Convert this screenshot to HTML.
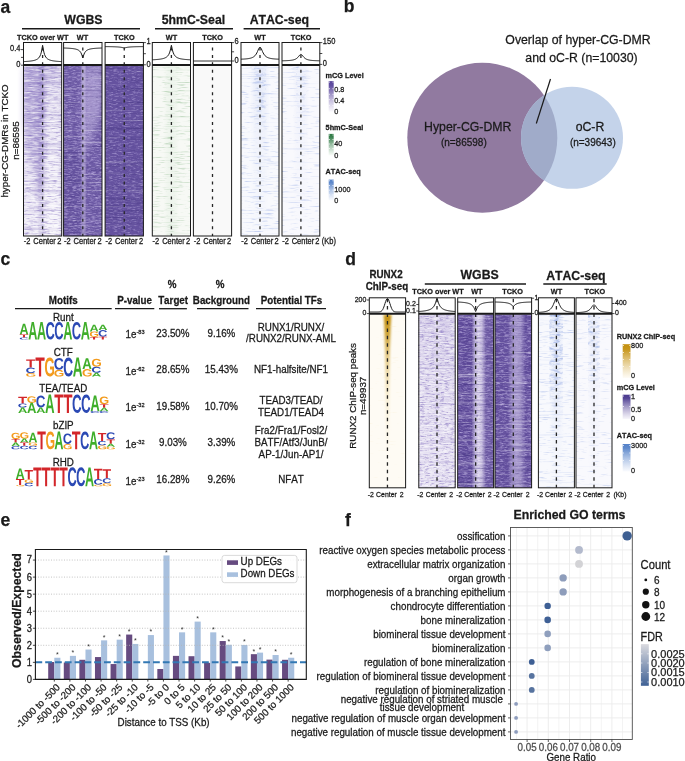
<!DOCTYPE html>
<html><head><meta charset="utf-8"><title>Figure</title>
<style>html,body{margin:0;padding:0;background:#fff;width:685px;height:761px;overflow:hidden}svg{display:block;will-change:transform}text{font-family:"Liberation Sans", sans-serif;font-kerning:none}</style>
</head><body>
<svg width="685" height="761" viewBox="0 0 685 761" font-family='"Liberation Sans", sans-serif'><defs><filter id="blur3" x="-0.5" y="-0.5" width="2" height="2"><feGaussianBlur stdDeviation="3 6"/></filter><linearGradient id="g1" x1="0" y1="0" x2="0" y2="1"><stop offset="0" stop-color="#a190cc" stop-opacity="0.45"/><stop offset="0.4" stop-color="#ad9fd4" stop-opacity="0.18"/><stop offset="0.7" stop-color="#ffffff" stop-opacity="0.1"/><stop offset="1" stop-color="#ffffff" stop-opacity="0.35"/></linearGradient><linearGradient id="g2" x1="0" y1="0" x2="1" y2="0"><stop offset="0.36073298429319367" stop-color="#7a68b6" stop-opacity="0"/><stop offset="0.4157329842931937" stop-color="#7a68b6" stop-opacity="0.44000000000000006"/><stop offset="0.4607329842931937" stop-color="#7a68b6" stop-opacity="0.55"/><stop offset="0.5057329842931937" stop-color="#7a68b6" stop-opacity="0.44000000000000006"/><stop offset="0.5607329842931937" stop-color="#7a68b6" stop-opacity="0"/></linearGradient><linearGradient id="g4" x1="0" y1="0" x2="0" y2="1"><stop offset="0" stop-color="#fff" stop-opacity="1"/><stop offset="0.6" stop-color="#fff" stop-opacity="0.7"/><stop offset="1" stop-color="#fff" stop-opacity="0.4"/></linearGradient><mask id="m3" maskUnits="userSpaceOnUse" x="23.5" y="65.6" width="38.2" height="170.4"><rect x="23.5" y="65.6" width="38.2" height="170.4" fill="url(#g4)"/></mask><filter id="f1" x="0" y="0" width="1" height="1" color-interpolation-filters="sRGB"><feTurbulence type="fractalNoise" baseFrequency="0.1 0.8" numOctaves="3" seed="3"/><feColorMatrix type="matrix" values="0 0 0 0 1.000 0 0 0 0 1.000 0 0 0 0 1.000 1.6 0 0 0 -0.6"/></filter><filter id="f2" x="0" y="0" width="1" height="1" color-interpolation-filters="sRGB"><feTurbulence type="fractalNoise" baseFrequency="0.12 0.9" numOctaves="3" seed="4"/><feColorMatrix type="matrix" values="0 0 0 0 0.478 0 0 0 0 0.400 0 0 0 0 0.722 1.5 0 0 0 -0.72"/></filter><filter id="f3" x="0" y="0" width="1" height="1" color-interpolation-filters="sRGB"><feTurbulence type="fractalNoise" baseFrequency="0.012 0.5" numOctaves="3" seed="5"/><feColorMatrix type="matrix" values="0 0 0 0 0.478 0 0 0 0 0.400 0 0 0 0 0.722 1.2 0 0 0 -0.65"/></filter><linearGradient id="g5" x1="0" y1="0" x2="1" y2="0"><stop offset="0.44083333333333335" stop-color="#dcd5ee" stop-opacity="0"/><stop offset="0.48483333333333334" stop-color="#dcd5ee" stop-opacity="0.52"/><stop offset="0.5208333333333334" stop-color="#dcd5ee" stop-opacity="0.65"/><stop offset="0.5568333333333334" stop-color="#dcd5ee" stop-opacity="0.52"/><stop offset="0.6008333333333333" stop-color="#dcd5ee" stop-opacity="0"/></linearGradient><linearGradient id="g7" x1="0" y1="0" x2="0" y2="1"><stop offset="0" stop-color="#fff" stop-opacity="1"/><stop offset="1" stop-color="#fff" stop-opacity="0.75"/></linearGradient><mask id="m6" maskUnits="userSpaceOnUse" x="63.6" y="65.6" width="38.4" height="170.4"><rect x="63.6" y="65.6" width="38.4" height="170.4" fill="url(#g7)"/></mask><filter id="f4" x="0" y="0" width="1" height="1" color-interpolation-filters="sRGB"><feTurbulence type="fractalNoise" baseFrequency="0.22 0.9" numOctaves="3" seed="11"/><feColorMatrix type="matrix" values="0 0 0 0 0.722 0 0 0 0 0.667 0 0 0 0 0.871 2.0 0 0 0 -0.88"/></filter><filter id="f5" x="0" y="0" width="1" height="1" color-interpolation-filters="sRGB"><feTurbulence type="fractalNoise" baseFrequency="0.012 0.5" numOctaves="3" seed="10"/><feColorMatrix type="matrix" values="0 0 0 0 1.000 0 0 0 0 1.000 0 0 0 0 1.000 1.3 0 0 0 -0.74"/></filter><filter id="f6" x="0" y="0" width="1" height="1" color-interpolation-filters="sRGB"><feTurbulence type="fractalNoise" baseFrequency="0.012 0.5" numOctaves="3" seed="12"/><feColorMatrix type="matrix" values="0 0 0 0 0.227 0 0 0 0 0.165 0 0 0 0 0.471 1.25 0 0 0 -0.68"/></filter><filter id="f7" x="0" y="0" width="1" height="1" color-interpolation-filters="sRGB"><feTurbulence type="fractalNoise" baseFrequency="0.2 0.9" numOctaves="3" seed="13"/><feColorMatrix type="matrix" values="0 0 0 0 0.227 0 0 0 0 0.165 0 0 0 0 0.471 1.1 0 0 0 -0.68"/></filter><filter id="f8" x="0" y="0" width="1" height="1" color-interpolation-filters="sRGB"><feTurbulence type="fractalNoise" baseFrequency="0.22 0.9" numOctaves="3" seed="21"/><feColorMatrix type="matrix" values="0 0 0 0 0.722 0 0 0 0 0.667 0 0 0 0 0.871 1.8 0 0 0 -0.88"/></filter><filter id="f9" x="0" y="0" width="1" height="1" color-interpolation-filters="sRGB"><feTurbulence type="fractalNoise" baseFrequency="0.012 0.5" numOctaves="3" seed="20"/><feColorMatrix type="matrix" values="0 0 0 0 1.000 0 0 0 0 1.000 0 0 0 0 1.000 1.1700000000000002 0 0 0 -0.74"/></filter><filter id="f10" x="0" y="0" width="1" height="1" color-interpolation-filters="sRGB"><feTurbulence type="fractalNoise" baseFrequency="0.012 0.5" numOctaves="3" seed="22"/><feColorMatrix type="matrix" values="0 0 0 0 0.227 0 0 0 0 0.165 0 0 0 0 0.471 1.25 0 0 0 -0.68"/></filter><filter id="f11" x="0" y="0" width="1" height="1" color-interpolation-filters="sRGB"><feTurbulence type="fractalNoise" baseFrequency="0.2 0.9" numOctaves="3" seed="23"/><feColorMatrix type="matrix" values="0 0 0 0 0.227 0 0 0 0 0.165 0 0 0 0 0.471 1.1 0 0 0 -0.68"/></filter><linearGradient id="g8" x1="0" y1="0" x2="1" y2="0"><stop offset="0.3" stop-color="#d9ead9" stop-opacity="0"/><stop offset="0.41" stop-color="#d9ead9" stop-opacity="0.24"/><stop offset="0.5" stop-color="#d9ead9" stop-opacity="0.3"/><stop offset="0.59" stop-color="#d9ead9" stop-opacity="0.24"/><stop offset="0.7" stop-color="#d9ead9" stop-opacity="0"/></linearGradient><filter id="f12" x="0" y="0" width="1" height="1" color-interpolation-filters="sRGB"><feTurbulence type="fractalNoise" baseFrequency="0.08 0.8" numOctaves="3" seed="31"/><feColorMatrix type="matrix" values="0 0 0 0 0.498 0 0 0 0 0.690 0 0 0 0 0.498 1.4 0 0 0 -0.78"/></filter><filter id="f13" x="0" y="0" width="1" height="1" color-interpolation-filters="sRGB"><feTurbulence type="fractalNoise" baseFrequency="0.012 0.5" numOctaves="3" seed="32"/><feColorMatrix type="matrix" values="0 0 0 0 0.612 0 0 0 0 0.769 0 0 0 0 0.612 1.2 0 0 0 -0.72"/></filter><linearGradient id="g9" x1="0" y1="0" x2="1" y2="0"><stop offset="0.25" stop-color="#bccaf0" stop-opacity="0"/><stop offset="0.3875" stop-color="#bccaf0" stop-opacity="0.24"/><stop offset="0.5" stop-color="#bccaf0" stop-opacity="0.3"/><stop offset="0.6125" stop-color="#bccaf0" stop-opacity="0.24"/><stop offset="0.75" stop-color="#bccaf0" stop-opacity="0"/></linearGradient><linearGradient id="g11" x1="0" y1="0" x2="0" y2="1"><stop offset="0" stop-color="#fff" stop-opacity="1"/><stop offset="0.5" stop-color="#fff" stop-opacity="0.4"/><stop offset="1" stop-color="#fff" stop-opacity="0.05"/></linearGradient><mask id="m10" maskUnits="userSpaceOnUse" x="241" y="65.6" width="38" height="170.4"><rect x="241" y="65.6" width="38" height="170.4" fill="url(#g11)"/></mask><linearGradient id="g13" x1="0" y1="0" x2="0" y2="1"><stop offset="0" stop-color="#fff" stop-opacity="1"/><stop offset="0.6" stop-color="#fff" stop-opacity="0.7"/><stop offset="1" stop-color="#fff" stop-opacity="0"/></linearGradient><mask id="m12" maskUnits="userSpaceOnUse" x="254.0" y="65.6" width="12" height="68.16000000000001"><rect x="254.0" y="65.6" width="12" height="68.16000000000001" fill="url(#g13)"/></mask><filter id="f14" x="0" y="0" width="1" height="1" color-interpolation-filters="sRGB"><feTurbulence type="fractalNoise" baseFrequency="0.15 0.35" numOctaves="3" seed="43"/><feColorMatrix type="matrix" values="0 0 0 0 0.541 0 0 0 0 0.620 0 0 0 0 0.878 1.8 0 0 0 -0.95"/></filter><filter id="f15" x="0" y="0" width="1" height="1" color-interpolation-filters="sRGB"><feTurbulence type="fractalNoise" baseFrequency="0.08 0.8" numOctaves="3" seed="41"/><feColorMatrix type="matrix" values="0 0 0 0 0.561 0 0 0 0 0.647 0 0 0 0 0.886 1.5 0 0 0 -0.85"/></filter><filter id="f16" x="0" y="0" width="1" height="1" color-interpolation-filters="sRGB"><feTurbulence type="fractalNoise" baseFrequency="0.012 0.5" numOctaves="3" seed="42"/><feColorMatrix type="matrix" values="0 0 0 0 0.690 0 0 0 0 0.753 0 0 0 0 0.925 1.2 0 0 0 -0.72"/></filter><linearGradient id="g14" x1="0" y1="0" x2="1" y2="0"><stop offset="0.28" stop-color="#c6d1f2" stop-opacity="0"/><stop offset="0.401" stop-color="#c6d1f2" stop-opacity="0.17600000000000002"/><stop offset="0.5" stop-color="#c6d1f2" stop-opacity="0.22"/><stop offset="0.599" stop-color="#c6d1f2" stop-opacity="0.17600000000000002"/><stop offset="0.72" stop-color="#c6d1f2" stop-opacity="0"/></linearGradient><linearGradient id="g16" x1="0" y1="0" x2="0" y2="1"><stop offset="0" stop-color="#fff" stop-opacity="1"/><stop offset="0.5" stop-color="#fff" stop-opacity="0.4"/><stop offset="1" stop-color="#fff" stop-opacity="0.05"/></linearGradient><mask id="m15" maskUnits="userSpaceOnUse" x="282" y="65.6" width="37.80000000000001" height="170.4"><rect x="282" y="65.6" width="37.80000000000001" height="170.4" fill="url(#g16)"/></mask><linearGradient id="g18" x1="0" y1="0" x2="0" y2="1"><stop offset="0" stop-color="#fff" stop-opacity="1"/><stop offset="0.6" stop-color="#fff" stop-opacity="0.7"/><stop offset="1" stop-color="#fff" stop-opacity="0"/></linearGradient><mask id="m17" maskUnits="userSpaceOnUse" x="295.9" y="65.6" width="10" height="51.12"><rect x="295.9" y="65.6" width="10" height="51.12" fill="url(#g18)"/></mask><filter id="f17" x="0" y="0" width="1" height="1" color-interpolation-filters="sRGB"><feTurbulence type="fractalNoise" baseFrequency="0.15 0.35" numOctaves="3" seed="53"/><feColorMatrix type="matrix" values="0 0 0 0 0.596 0 0 0 0 0.667 0 0 0 0 0.894 1.6 0 0 0 -0.92"/></filter><filter id="f18" x="0" y="0" width="1" height="1" color-interpolation-filters="sRGB"><feTurbulence type="fractalNoise" baseFrequency="0.08 0.8" numOctaves="3" seed="51"/><feColorMatrix type="matrix" values="0 0 0 0 0.624 0 0 0 0 0.698 0 0 0 0 0.902 1.5 0 0 0 -0.88"/></filter><filter id="f19" x="0" y="0" width="1" height="1" color-interpolation-filters="sRGB"><feTurbulence type="fractalNoise" baseFrequency="0.012 0.5" numOctaves="3" seed="52"/><feColorMatrix type="matrix" values="0 0 0 0 0.722 0 0 0 0 0.776 0 0 0 0 0.933 1.2 0 0 0 -0.75"/></filter><linearGradient id="g19" x1="0" y1="0" x2="0" y2="1"><stop offset="0" stop-color="#5a469c" stop-opacity="1"/><stop offset="0.15" stop-color="#5a469c" stop-opacity="0.95"/><stop offset="1" stop-color="#f7f5fc" stop-opacity="0.6"/></linearGradient><linearGradient id="g20" x1="0" y1="0" x2="0" y2="1"><stop offset="0" stop-color="#2f7a45" stop-opacity="1"/><stop offset="0.15" stop-color="#2f7a45" stop-opacity="0.95"/><stop offset="1" stop-color="#f4faf4" stop-opacity="0.6"/></linearGradient><linearGradient id="g21" x1="0" y1="0" x2="0" y2="1"><stop offset="0" stop-color="#5683c9" stop-opacity="1"/><stop offset="0.15" stop-color="#5683c9" stop-opacity="0.95"/><stop offset="1" stop-color="#f5f7fd" stop-opacity="0.6"/></linearGradient><clipPath id="cpbig"><circle cx="482.3" cy="137.8" r="75"/></clipPath><path id="glA" d="M1133 0 1008 360H471L346 0H51L565 1409H913L1425 0ZM739 1192 733 1170Q723 1134 709.0 1088.0Q695 1042 537 582H942L803 987L760 1123Z"/><path id="glC" d="M795 212Q1062 212 1166 480L1423 383Q1340 179 1179.5 79.5Q1019 -20 795 -20Q455 -20 269.5 172.5Q84 365 84 711Q84 1058 263.0 1244.0Q442 1430 782 1430Q1030 1430 1186.0 1330.5Q1342 1231 1405 1038L1145 967Q1112 1073 1015.5 1135.5Q919 1198 788 1198Q588 1198 484.5 1074.0Q381 950 381 711Q381 468 487.5 340.0Q594 212 795 212Z"/><path id="glG" d="M806 211Q921 211 1029.0 244.5Q1137 278 1196 330V525H852V743H1466V225Q1354 110 1174.5 45.0Q995 -20 798 -20Q454 -20 269.0 170.5Q84 361 84 711Q84 1059 270.0 1244.5Q456 1430 805 1430Q1301 1430 1436 1063L1164 981Q1120 1088 1026.0 1143.0Q932 1198 805 1198Q597 1198 489.0 1072.0Q381 946 381 711Q381 472 492.5 341.5Q604 211 806 211Z"/><path id="glT" d="M773 1181V0H478V1181H23V1409H1229V1181Z"/><filter id="blurG" x="-1" y="-0.2" width="3" height="1.4"><feGaussianBlur stdDeviation="0.9 1.5"/></filter><linearGradient id="g22" x1="0" y1="0" x2="0" y2="1"><stop offset="0" stop-color="#c4900e" stop-opacity="1"/><stop offset="0.12" stop-color="#c99a22" stop-opacity="0.92"/><stop offset="0.3" stop-color="#dcb657" stop-opacity="0.62"/><stop offset="0.55" stop-color="#efd99a" stop-opacity="0.35"/><stop offset="1" stop-color="#f6e8c4" stop-opacity="0"/></linearGradient><filter id="f20" x="0" y="0" width="1" height="1" color-interpolation-filters="sRGB"><feTurbulence type="fractalNoise" baseFrequency="0.08 0.8" numOctaves="3" seed="21"/><feColorMatrix type="matrix" values="0 0 0 0 0.953 0 0 0 0 0.886 0 0 0 0 0.706 1.2 0 0 0 -0.82"/></filter><linearGradient id="g23" x1="0" y1="0" x2="0" y2="1"><stop offset="0" stop-color="#b9acd9" stop-opacity="0.3"/><stop offset="1" stop-color="#ffffff" stop-opacity="0.1"/></linearGradient><filter id="f21" x="0" y="0" width="1" height="1" color-interpolation-filters="sRGB"><feTurbulence type="fractalNoise" baseFrequency="0.12 0.9" numOctaves="3" seed="61"/><feColorMatrix type="matrix" values="0 0 0 0 1.000 0 0 0 0 1.000 0 0 0 0 1.000 1.6 0 0 0 -0.6"/></filter><filter id="f22" x="0" y="0" width="1" height="1" color-interpolation-filters="sRGB"><feTurbulence type="fractalNoise" baseFrequency="0.2 0.9" numOctaves="3" seed="62"/><feColorMatrix type="matrix" values="0 0 0 0 0.478 0 0 0 0 0.400 0 0 0 0 0.722 1.7 0 0 0 -0.85"/></filter><filter id="f23" x="0" y="0" width="1" height="1" color-interpolation-filters="sRGB"><feTurbulence type="fractalNoise" baseFrequency="0.012 0.5" numOctaves="3" seed="63"/><feColorMatrix type="matrix" values="0 0 0 0 0.478 0 0 0 0 0.400 0 0 0 0 0.722 1.2 0 0 0 -0.68"/></filter><linearGradient id="g24" x1="0" y1="0" x2="1" y2="0"><stop offset="0" stop-color="#c9bfe3" stop-opacity="0"/><stop offset="0.55" stop-color="#c9bfe3" stop-opacity="0.0"/><stop offset="0.75" stop-color="#c9bfe3" stop-opacity="0.15"/><stop offset="1" stop-color="#c9bfe3" stop-opacity="0.1"/></linearGradient><linearGradient id="g25" x1="0" y1="0" x2="1" y2="0"><stop offset="0.3835654596100278" stop-color="#e8e2f4" stop-opacity="0"/><stop offset="0.4935654596100278" stop-color="#e8e2f4" stop-opacity="0.76"/><stop offset="0.5835654596100278" stop-color="#e8e2f4" stop-opacity="0.95"/><stop offset="0.6735654596100278" stop-color="#e8e2f4" stop-opacity="0.76"/><stop offset="0.7835654596100279" stop-color="#e8e2f4" stop-opacity="0"/></linearGradient><filter id="f24" x="0" y="0" width="1" height="1" color-interpolation-filters="sRGB"><feTurbulence type="fractalNoise" baseFrequency="0.22 0.9" numOctaves="3" seed="71"/><feColorMatrix type="matrix" values="0 0 0 0 0.722 0 0 0 0 0.667 0 0 0 0 0.871 2.0 0 0 0 -0.88"/></filter><filter id="f25" x="0" y="0" width="1" height="1" color-interpolation-filters="sRGB"><feTurbulence type="fractalNoise" baseFrequency="0.012 0.5" numOctaves="3" seed="70"/><feColorMatrix type="matrix" values="0 0 0 0 1.000 0 0 0 0 1.000 0 0 0 0 1.000 1.3 0 0 0 -0.74"/></filter><filter id="f26" x="0" y="0" width="1" height="1" color-interpolation-filters="sRGB"><feTurbulence type="fractalNoise" baseFrequency="0.012 0.5" numOctaves="3" seed="72"/><feColorMatrix type="matrix" values="0 0 0 0 0.227 0 0 0 0 0.165 0 0 0 0 0.471 1.25 0 0 0 -0.68"/></filter><filter id="f27" x="0" y="0" width="1" height="1" color-interpolation-filters="sRGB"><feTurbulence type="fractalNoise" baseFrequency="0.2 0.9" numOctaves="3" seed="73"/><feColorMatrix type="matrix" values="0 0 0 0 0.227 0 0 0 0 0.165 0 0 0 0 0.471 1.1 0 0 0 -0.68"/></filter><linearGradient id="g26" x1="0" y1="0" x2="1" y2="0"><stop offset="0.35562841530054645" stop-color="#cdc3e6" stop-opacity="0"/><stop offset="0.48762841530054646" stop-color="#cdc3e6" stop-opacity="0.52"/><stop offset="0.5956284153005464" stop-color="#cdc3e6" stop-opacity="0.65"/><stop offset="0.7036284153005464" stop-color="#cdc3e6" stop-opacity="0.52"/><stop offset="0.8356284153005464" stop-color="#cdc3e6" stop-opacity="0"/></linearGradient><filter id="f28" x="0" y="0" width="1" height="1" color-interpolation-filters="sRGB"><feTurbulence type="fractalNoise" baseFrequency="0.22 0.9" numOctaves="3" seed="81"/><feColorMatrix type="matrix" values="0 0 0 0 0.722 0 0 0 0 0.667 0 0 0 0 0.871 2.0 0 0 0 -0.88"/></filter><filter id="f29" x="0" y="0" width="1" height="1" color-interpolation-filters="sRGB"><feTurbulence type="fractalNoise" baseFrequency="0.012 0.5" numOctaves="3" seed="80"/><feColorMatrix type="matrix" values="0 0 0 0 1.000 0 0 0 0 1.000 0 0 0 0 1.000 1.3 0 0 0 -0.74"/></filter><filter id="f30" x="0" y="0" width="1" height="1" color-interpolation-filters="sRGB"><feTurbulence type="fractalNoise" baseFrequency="0.012 0.5" numOctaves="3" seed="82"/><feColorMatrix type="matrix" values="0 0 0 0 0.227 0 0 0 0 0.165 0 0 0 0 0.471 1.25 0 0 0 -0.68"/></filter><filter id="f31" x="0" y="0" width="1" height="1" color-interpolation-filters="sRGB"><feTurbulence type="fractalNoise" baseFrequency="0.2 0.9" numOctaves="3" seed="83"/><feColorMatrix type="matrix" values="0 0 0 0 0.227 0 0 0 0 0.165 0 0 0 0 0.471 1.1 0 0 0 -0.68"/></filter><linearGradient id="g27" x1="0" y1="0" x2="1" y2="0"><stop offset="0.3" stop-color="#bccbf0" stop-opacity="0"/><stop offset="0.41" stop-color="#bccbf0" stop-opacity="0.27999999999999997"/><stop offset="0.5" stop-color="#bccbf0" stop-opacity="0.35"/><stop offset="0.59" stop-color="#bccbf0" stop-opacity="0.27999999999999997"/><stop offset="0.7" stop-color="#bccbf0" stop-opacity="0"/></linearGradient><linearGradient id="g29" x1="0" y1="0" x2="0" y2="1"><stop offset="0" stop-color="#fff" stop-opacity="1"/><stop offset="0.45" stop-color="#fff" stop-opacity="0.5"/><stop offset="1" stop-color="#fff" stop-opacity="0.05"/></linearGradient><mask id="m28" maskUnits="userSpaceOnUse" x="538.4" y="314.5" width="36.0" height="173.3"><rect x="538.4" y="314.5" width="36.0" height="173.3" fill="url(#g29)"/></mask><linearGradient id="g31" x1="0" y1="0" x2="0" y2="1"><stop offset="0" stop-color="#fff" stop-opacity="1"/><stop offset="0.6" stop-color="#fff" stop-opacity="0.7"/><stop offset="1" stop-color="#fff" stop-opacity="0"/></linearGradient><mask id="m30" maskUnits="userSpaceOnUse" x="549.4" y="314.5" width="14" height="103.98"><rect x="549.4" y="314.5" width="14" height="103.98" fill="url(#g31)"/></mask><filter id="f32" x="0" y="0" width="1" height="1" color-interpolation-filters="sRGB"><feTurbulence type="fractalNoise" baseFrequency="0.15 0.35" numOctaves="3" seed="93"/><feColorMatrix type="matrix" values="0 0 0 0 0.533 0 0 0 0 0.627 0 0 0 0 0.878 2.2 0 0 0 -1.0"/></filter><filter id="f33" x="0" y="0" width="1" height="1" color-interpolation-filters="sRGB"><feTurbulence type="fractalNoise" baseFrequency="0.08 0.8" numOctaves="3" seed="91"/><feColorMatrix type="matrix" values="0 0 0 0 0.561 0 0 0 0 0.647 0 0 0 0 0.886 1.5 0 0 0 -0.87"/></filter><filter id="f34" x="0" y="0" width="1" height="1" color-interpolation-filters="sRGB"><feTurbulence type="fractalNoise" baseFrequency="0.012 0.5" numOctaves="3" seed="92"/><feColorMatrix type="matrix" values="0 0 0 0 0.690 0 0 0 0 0.753 0 0 0 0 0.925 1.2 0 0 0 -0.74"/></filter><linearGradient id="g32" x1="0" y1="0" x2="1" y2="0"><stop offset="0.32" stop-color="#c8d3f2" stop-opacity="0"/><stop offset="0.419" stop-color="#c8d3f2" stop-opacity="0.24"/><stop offset="0.5" stop-color="#c8d3f2" stop-opacity="0.3"/><stop offset="0.581" stop-color="#c8d3f2" stop-opacity="0.24"/><stop offset="0.6799999999999999" stop-color="#c8d3f2" stop-opacity="0"/></linearGradient><linearGradient id="g34" x1="0" y1="0" x2="0" y2="1"><stop offset="0" stop-color="#fff" stop-opacity="1"/><stop offset="0.5" stop-color="#fff" stop-opacity="0.4"/><stop offset="1" stop-color="#fff" stop-opacity="0.05"/></linearGradient><mask id="m33" maskUnits="userSpaceOnUse" x="576" y="314.5" width="36" height="173.3"><rect x="576" y="314.5" width="36" height="173.3" fill="url(#g34)"/></mask><linearGradient id="g36" x1="0" y1="0" x2="0" y2="1"><stop offset="0" stop-color="#fff" stop-opacity="1"/><stop offset="0.6" stop-color="#fff" stop-opacity="0.7"/><stop offset="1" stop-color="#fff" stop-opacity="0"/></linearGradient><mask id="m35" maskUnits="userSpaceOnUse" x="588.0" y="314.5" width="12" height="86.65"><rect x="588.0" y="314.5" width="12" height="86.65" fill="url(#g36)"/></mask><filter id="f35" x="0" y="0" width="1" height="1" color-interpolation-filters="sRGB"><feTurbulence type="fractalNoise" baseFrequency="0.15 0.35" numOctaves="3" seed="97"/><feColorMatrix type="matrix" values="0 0 0 0 0.596 0 0 0 0 0.682 0 0 0 0 0.894 2.0 0 0 0 -1.0"/></filter><filter id="f36" x="0" y="0" width="1" height="1" color-interpolation-filters="sRGB"><feTurbulence type="fractalNoise" baseFrequency="0.08 0.8" numOctaves="3" seed="95"/><feColorMatrix type="matrix" values="0 0 0 0 0.624 0 0 0 0 0.698 0 0 0 0 0.902 1.5 0 0 0 -0.9"/></filter><filter id="f37" x="0" y="0" width="1" height="1" color-interpolation-filters="sRGB"><feTurbulence type="fractalNoise" baseFrequency="0.012 0.5" numOctaves="3" seed="96"/><feColorMatrix type="matrix" values="0 0 0 0 0.722 0 0 0 0 0.776 0 0 0 0 0.933 1.2 0 0 0 -0.77"/></filter><linearGradient id="g37" x1="0" y1="0" x2="0" y2="1"><stop offset="0" stop-color="#c4900e" stop-opacity="1"/><stop offset="0.15" stop-color="#c4900e" stop-opacity="0.95"/><stop offset="1" stop-color="#fdf8ec" stop-opacity="0.6"/></linearGradient><linearGradient id="g38" x1="0" y1="0" x2="0" y2="1"><stop offset="0" stop-color="#4b3a90" stop-opacity="1"/><stop offset="0.15" stop-color="#4b3a90" stop-opacity="0.95"/><stop offset="1" stop-color="#f0edf8" stop-opacity="0.6"/></linearGradient><linearGradient id="g39" x1="0" y1="0" x2="0" y2="1"><stop offset="0" stop-color="#5683c9" stop-opacity="1"/><stop offset="0.15" stop-color="#5683c9" stop-opacity="0.95"/><stop offset="1" stop-color="#f5f7fd" stop-opacity="0.6"/></linearGradient><linearGradient id="g40" x1="0" y1="0" x2="0" y2="1"><stop offset="0" stop-color="#dadadf" stop-opacity="1"/><stop offset="1" stop-color="#3f6195" stop-opacity="1"/></linearGradient></defs><rect width="685" height="761" fill="#fff"/><text x="0.60" y="12.50" font-size="17.5" font-weight="bold" text-anchor="start" fill="#1a1a1a" stroke="#1a1a1a" stroke-width="0.25" >a</text>
<text transform="translate(83.40,23.60) scale(1,1.1)" font-size="12.3" font-weight="bold" text-anchor="middle" fill="#1a1a1a" stroke="#1a1a1a" stroke-width="0.25" >WGBS</text>
<text transform="translate(193.40,23.60) scale(1,1.1)" font-size="12.3" font-weight="bold" text-anchor="middle" fill="#1a1a1a" stroke="#1a1a1a" stroke-width="0.25" >5hmC-Seal</text>
<text transform="translate(279.30,23.60) scale(1,1.1)" font-size="12.3" font-weight="bold" text-anchor="middle" fill="#1a1a1a" stroke="#1a1a1a" stroke-width="0.25" >ATAC-seq</text>
<line x1="22.00" y1="28.80" x2="140.00" y2="28.80" stroke="#1a1a1a" stroke-width="1.4" />
<line x1="155.00" y1="28.80" x2="233.00" y2="28.80" stroke="#1a1a1a" stroke-width="1.4" />
<line x1="243.60" y1="28.80" x2="320.00" y2="28.80" stroke="#1a1a1a" stroke-width="1.4" />
<text transform="translate(42.70,40.20) scale(1,1.1)" font-size="7.3" font-weight="bold" text-anchor="middle" fill="#1a1a1a" stroke="#1a1a1a" stroke-width="0.25" >TCKO over WT</text>
<text transform="translate(82.50,40.20) scale(1,1.1)" font-size="7.3" font-weight="bold" text-anchor="middle" fill="#1a1a1a" stroke="#1a1a1a" stroke-width="0.25" >WT</text>
<text transform="translate(124.30,40.20) scale(1,1.1)" font-size="7.3" font-weight="bold" text-anchor="middle" fill="#1a1a1a" stroke="#1a1a1a" stroke-width="0.25" >TCKO</text>
<text transform="translate(171.50,40.20) scale(1,1.1)" font-size="7.3" font-weight="bold" text-anchor="middle" fill="#1a1a1a" stroke="#1a1a1a" stroke-width="0.25" >WT</text>
<text transform="translate(212.50,40.20) scale(1,1.1)" font-size="7.3" font-weight="bold" text-anchor="middle" fill="#1a1a1a" stroke="#1a1a1a" stroke-width="0.25" >TCKO</text>
<text transform="translate(260.00,40.20) scale(1,1.1)" font-size="7.3" font-weight="bold" text-anchor="middle" fill="#1a1a1a" stroke="#1a1a1a" stroke-width="0.25" >WT</text>
<text transform="translate(301.00,40.20) scale(1,1.1)" font-size="7.3" font-weight="bold" text-anchor="middle" fill="#1a1a1a" stroke="#1a1a1a" stroke-width="0.25" >TCKO</text>
<rect x="23.50" y="65.60" width="38.20" height="170.40" fill="#e6e1f2" />
<rect x="23.50" y="65.60" width="38.20" height="170.40" fill="url(#g1)" />
<rect x="23.50" y="65.60" width="38.20" height="170.40" fill="url(#g2)" mask="url(#m3)"/>
<polygon points="23.5,65.6 45.6,65.6 43.6,142.28 41.6,193.4 38.6,193.4 23.5,125.24" fill="#9584c6" opacity="0.5" filter="url(#blur3)"/>
<polygon points="37.6,82.64 43.6,82.64 43.1,201.92000000000002 40.1,201.92000000000002" fill="#8a78c0" opacity="0.45" filter="url(#blur3)"/>
<polygon points="46.6,82.64 61.7,69.008 61.7,236 44.6,236" fill="#ffffff" opacity="0.45" filter="url(#blur3)"/>
<rect x="23.50" y="65.60" width="38.20" height="170.40" fill="#000" filter="url(#f1)"/>
<rect x="23.50" y="65.60" width="38.20" height="170.40" fill="#000" filter="url(#f2)"/>
<rect x="23.50" y="65.60" width="38.20" height="170.40" fill="#000" filter="url(#f3)"/>
<rect x="63.60" y="65.60" width="38.40" height="170.40" fill="#6e5ba6" />
<rect x="63.60" y="65.60" width="38.40" height="170.40" fill="url(#g5)" mask="url(#m6)"/>
<polygon points="83.8,65.6 102,65.6 102,108.19999999999999 87.8,150.8 83.8,150.8" fill="#c4b8e2" opacity="0.6" filter="url(#blur3)"/>
<polygon points="63.6,150.8 80.8,150.8 80.8,236 63.6,236" fill="#4a3889" opacity="0.25" filter="url(#blur3)"/>
<rect x="63.60" y="65.60" width="38.40" height="170.40" fill="#000" filter="url(#f4)"/>
<rect x="63.60" y="65.60" width="38.40" height="170.40" fill="#000" filter="url(#f5)"/>
<rect x="63.60" y="65.60" width="38.40" height="170.40" fill="#000" filter="url(#f6)"/>
<rect x="63.60" y="65.60" width="38.40" height="170.40" fill="#000" filter="url(#f7)"/>
<rect x="105.10" y="65.60" width="38.30" height="170.40" fill="#65529f" />
<rect x="105.10" y="65.60" width="38.30" height="170.40" fill="#000" filter="url(#f8)"/>
<rect x="105.10" y="65.60" width="38.30" height="170.40" fill="#000" filter="url(#f9)"/>
<rect x="105.10" y="65.60" width="38.30" height="170.40" fill="#000" filter="url(#f10)"/>
<rect x="105.10" y="65.60" width="38.30" height="170.40" fill="#000" filter="url(#f11)"/>
<rect x="152.30" y="65.60" width="38.20" height="170.40" fill="#f7f9f5" />
<rect x="152.30" y="65.60" width="38.20" height="170.40" fill="url(#g8)" />
<rect x="152.30" y="65.60" width="38.20" height="170.40" fill="#000" filter="url(#f12)"/>
<rect x="152.30" y="65.60" width="38.20" height="170.40" fill="#000" filter="url(#f13)"/>
<rect x="193.40" y="65.60" width="38.20" height="170.40" fill="#f9f9f9" />
<rect x="241.00" y="65.60" width="38.00" height="170.40" fill="#f8f9fd" />
<rect x="241.00" y="65.60" width="38.00" height="170.40" fill="url(#g9)" mask="url(#m10)"/>
<g mask="url(#m12)"><rect x="254.00" y="65.60" width="12.00" height="68.16" fill="#000" filter="url(#f14)"/></g>
<rect x="241.00" y="65.60" width="38.00" height="170.40" fill="#000" filter="url(#f15)"/>
<rect x="241.00" y="65.60" width="38.00" height="170.40" fill="#000" filter="url(#f16)"/>
<rect x="282.00" y="65.60" width="37.80" height="170.40" fill="#f9f9fd" />
<rect x="282.00" y="65.60" width="37.80" height="170.40" fill="url(#g14)" mask="url(#m15)"/>
<g mask="url(#m17)"><rect x="295.90" y="65.60" width="10.00" height="51.12" fill="#000" filter="url(#f17)"/></g>
<rect x="282.00" y="65.60" width="37.80" height="170.40" fill="#000" filter="url(#f18)"/>
<rect x="282.00" y="65.60" width="37.80" height="170.40" fill="#000" filter="url(#f19)"/>
<rect x="23.50" y="42.50" width="38.20" height="22.10" fill="#fff" />
<rect x="63.60" y="42.50" width="38.40" height="22.10" fill="#fff" />
<rect x="105.10" y="42.50" width="38.30" height="22.10" fill="#fff" />
<rect x="152.30" y="42.50" width="38.20" height="22.10" fill="#fff" />
<rect x="193.40" y="42.50" width="38.20" height="22.10" fill="#fff" />
<rect x="241.00" y="42.50" width="38.00" height="22.10" fill="#fff" />
<rect x="282.00" y="42.50" width="37.80" height="22.10" fill="#fff" />
<line x1="42.60" y1="42.50" x2="42.60" y2="236.00" stroke="#262626" stroke-width="1.3" stroke-dasharray="3,4.45" stroke-dashoffset="2.5"/>
<path d="M23.50,61.60 L24.14,61.57 L24.77,61.54 L25.41,61.50 L26.05,61.46 L26.68,61.42 L27.32,61.37 L27.96,61.32 L28.59,61.27 L29.23,61.21 L29.87,61.14 L30.50,61.06 L31.14,60.98 L31.78,60.89 L32.41,60.78 L33.05,60.66 L33.69,60.52 L34.32,60.36 L34.96,60.17 L35.60,59.95 L36.23,59.69 L36.87,59.37 L37.51,58.98 L38.14,58.49 L38.78,57.86 L39.42,57.04 L40.05,55.93 L40.69,54.39 L41.33,52.17 L41.96,48.97 L42.60,45.30 L43.24,48.97 L43.87,52.17 L44.51,54.39 L45.15,55.93 L45.78,57.04 L46.42,57.86 L47.06,58.49 L47.69,58.98 L48.33,59.37 L48.97,59.69 L49.60,59.95 L50.24,60.17 L50.88,60.36 L51.51,60.52 L52.15,60.66 L52.79,60.78 L53.42,60.89 L54.06,60.98 L54.70,61.06 L55.33,61.14 L55.97,61.21 L56.61,61.27 L57.24,61.32 L57.88,61.37 L58.52,61.42 L59.15,61.46 L59.79,61.50 L60.43,61.54 L61.06,61.57 L61.70,61.60" stroke="#1a1a1a" stroke-width="1" fill="none" />
<line x1="82.80" y1="42.50" x2="82.80" y2="236.00" stroke="#262626" stroke-width="1.3" stroke-dasharray="3,4.45" stroke-dashoffset="2.5"/>
<path d="M63.60,48.00 L64.24,48.02 L64.88,48.04 L65.52,48.07 L66.16,48.10 L66.80,48.12 L67.44,48.16 L68.08,48.19 L68.72,48.23 L69.36,48.27 L70.00,48.32 L70.64,48.37 L71.28,48.43 L71.92,48.49 L72.56,48.56 L73.20,48.65 L73.84,48.74 L74.48,48.85 L75.12,48.98 L75.76,49.12 L76.40,49.30 L77.04,49.51 L77.68,49.77 L78.32,50.10 L78.96,50.51 L79.60,51.04 L80.24,51.74 L80.88,52.70 L81.52,54.04 L82.16,55.89 L82.80,57.90 L83.44,55.89 L84.08,54.04 L84.72,52.70 L85.36,51.74 L86.00,51.04 L86.64,50.51 L87.28,50.10 L87.92,49.77 L88.56,49.51 L89.20,49.30 L89.84,49.12 L90.48,48.98 L91.12,48.85 L91.76,48.74 L92.40,48.65 L93.04,48.56 L93.68,48.49 L94.32,48.43 L94.96,48.37 L95.60,48.32 L96.24,48.27 L96.88,48.23 L97.52,48.19 L98.16,48.16 L98.80,48.12 L99.44,48.10 L100.08,48.07 L100.72,48.04 L101.36,48.02 L102.00,48.00" stroke="#1a1a1a" stroke-width="1" fill="none" />
<line x1="124.25" y1="42.50" x2="124.25" y2="236.00" stroke="#262626" stroke-width="1.3" stroke-dasharray="3,4.45" stroke-dashoffset="2.5"/>
<path d="M105.10,46.60 L105.74,46.61 L106.38,46.61 L107.02,46.62 L107.65,46.63 L108.29,46.64 L108.93,46.65 L109.57,46.66 L110.21,46.67 L110.84,46.69 L111.48,46.70 L112.12,46.71 L112.76,46.73 L113.40,46.75 L114.04,46.77 L114.67,46.79 L115.31,46.82 L115.95,46.85 L116.59,46.88 L117.23,46.92 L117.87,46.96 L118.50,47.01 L119.14,47.07 L119.78,47.14 L120.42,47.21 L121.06,47.31 L121.70,47.42 L122.34,47.55 L122.97,47.70 L123.61,47.86 L124.25,48.00 L124.89,47.86 L125.53,47.70 L126.17,47.55 L126.80,47.42 L127.44,47.31 L128.08,47.21 L128.72,47.14 L129.36,47.07 L130.00,47.01 L130.63,46.96 L131.27,46.92 L131.91,46.88 L132.55,46.85 L133.19,46.82 L133.82,46.79 L134.46,46.77 L135.10,46.75 L135.74,46.73 L136.38,46.71 L137.02,46.70 L137.66,46.69 L138.29,46.67 L138.93,46.66 L139.57,46.65 L140.21,46.64 L140.85,46.63 L141.49,46.62 L142.12,46.61 L142.76,46.61 L143.40,46.60" stroke="#1a1a1a" stroke-width="1" fill="none" />
<line x1="171.40" y1="42.50" x2="171.40" y2="236.00" stroke="#262626" stroke-width="1.3" stroke-dasharray="3,4.45" stroke-dashoffset="2.5"/>
<path d="M152.30,59.80 L152.94,59.77 L153.57,59.74 L154.21,59.70 L154.85,59.66 L155.48,59.62 L156.12,59.57 L156.76,59.52 L157.39,59.46 L158.03,59.40 L158.67,59.34 L159.30,59.26 L159.94,59.18 L160.58,59.08 L161.21,58.97 L161.85,58.85 L162.49,58.72 L163.12,58.56 L163.76,58.37 L164.40,58.15 L165.03,57.89 L165.67,57.58 L166.31,57.20 L166.94,56.73 L167.58,56.13 L168.22,55.35 L168.85,54.32 L169.49,52.91 L170.13,50.95 L170.76,48.24 L171.40,45.30 L172.04,48.24 L172.67,50.95 L173.31,52.91 L173.95,54.32 L174.58,55.35 L175.22,56.13 L175.86,56.73 L176.49,57.20 L177.13,57.58 L177.77,57.89 L178.40,58.15 L179.04,58.37 L179.68,58.56 L180.31,58.72 L180.95,58.85 L181.59,58.97 L182.22,59.08 L182.86,59.18 L183.50,59.26 L184.13,59.34 L184.77,59.40 L185.41,59.46 L186.04,59.52 L186.68,59.57 L187.32,59.62 L187.95,59.66 L188.59,59.70 L189.23,59.74 L189.86,59.77 L190.50,59.80" stroke="#1a1a1a" stroke-width="1" fill="none" />
<line x1="212.50" y1="42.50" x2="212.50" y2="236.00" stroke="#262626" stroke-width="1.3" stroke-dasharray="3,4.45" stroke-dashoffset="2.5"/>
<path d="M193.40,61.00 L194.04,61.00 L194.67,61.00 L195.31,61.00 L195.95,61.00 L196.58,61.00 L197.22,61.00 L197.86,61.00 L198.49,61.00 L199.13,61.00 L199.77,61.00 L200.40,61.00 L201.04,61.00 L201.68,61.00 L202.31,61.00 L202.95,61.00 L203.59,61.00 L204.22,61.00 L204.86,61.00 L205.50,61.00 L206.13,61.00 L206.77,61.00 L207.41,61.00 L208.04,61.00 L208.68,61.00 L209.32,61.00 L209.95,61.00 L210.59,61.00 L211.23,61.00 L211.86,61.00 L212.50,61.00 L213.14,61.00 L213.77,61.00 L214.41,61.00 L215.05,61.00 L215.68,61.00 L216.32,61.00 L216.96,61.00 L217.59,61.00 L218.23,61.00 L218.87,61.00 L219.50,61.00 L220.14,61.00 L220.78,61.00 L221.41,61.00 L222.05,61.00 L222.69,61.00 L223.32,61.00 L223.96,61.00 L224.60,61.00 L225.23,61.00 L225.87,61.00 L226.51,61.00 L227.14,61.00 L227.78,61.00 L228.42,61.00 L229.05,61.00 L229.69,61.00 L230.33,61.00 L230.96,61.00 L231.60,61.00" stroke="#1a1a1a" stroke-width="1" fill="none" />
<line x1="260.00" y1="42.50" x2="260.00" y2="236.00" stroke="#262626" stroke-width="1.3" stroke-dasharray="3,4.45" stroke-dashoffset="2.5"/>
<path d="M241.00,59.20 L241.63,59.17 L242.27,59.14 L242.90,59.11 L243.53,59.08 L244.17,59.04 L244.80,58.99 L245.43,58.94 L246.07,58.88 L246.70,58.82 L247.33,58.75 L247.97,58.66 L248.60,58.57 L249.23,58.45 L249.87,58.32 L250.50,58.17 L251.13,57.98 L251.77,57.77 L252.40,57.50 L253.03,57.18 L253.67,56.79 L254.30,56.31 L254.93,55.71 L255.57,54.97 L256.20,54.04 L256.83,52.92 L257.47,51.59 L258.10,50.12 L258.73,48.69 L259.37,47.61 L260.00,47.20 L260.63,47.61 L261.27,48.69 L261.90,50.12 L262.53,51.59 L263.17,52.92 L263.80,54.04 L264.43,54.97 L265.07,55.71 L265.70,56.31 L266.33,56.79 L266.97,57.18 L267.60,57.50 L268.23,57.77 L268.87,57.98 L269.50,58.17 L270.13,58.32 L270.77,58.45 L271.40,58.57 L272.03,58.66 L272.67,58.75 L273.30,58.82 L273.93,58.88 L274.57,58.94 L275.20,58.99 L275.83,59.04 L276.47,59.08 L277.10,59.11 L277.73,59.14 L278.37,59.17 L279.00,59.20" stroke="#1a1a1a" stroke-width="1" fill="none" />
<line x1="300.90" y1="42.50" x2="300.90" y2="236.00" stroke="#262626" stroke-width="1.3" stroke-dasharray="3,4.45" stroke-dashoffset="2.5"/>
<path d="M282.00,60.80 L282.63,60.79 L283.26,60.77 L283.89,60.75 L284.52,60.73 L285.15,60.71 L285.78,60.69 L286.41,60.66 L287.04,60.63 L287.67,60.60 L288.30,60.56 L288.93,60.51 L289.56,60.46 L290.19,60.40 L290.82,60.33 L291.45,60.25 L292.08,60.15 L292.71,60.04 L293.34,59.89 L293.97,59.72 L294.60,59.52 L295.23,59.26 L295.86,58.94 L296.49,58.54 L297.12,58.05 L297.75,57.45 L298.38,56.74 L299.01,55.96 L299.64,55.20 L300.27,54.62 L300.90,54.40 L301.53,54.62 L302.16,55.20 L302.79,55.96 L303.42,56.74 L304.05,57.45 L304.68,58.05 L305.31,58.54 L305.94,58.94 L306.57,59.26 L307.20,59.52 L307.83,59.72 L308.46,59.89 L309.09,60.04 L309.72,60.15 L310.35,60.25 L310.98,60.33 L311.61,60.40 L312.24,60.46 L312.87,60.51 L313.50,60.56 L314.13,60.60 L314.76,60.63 L315.39,60.66 L316.02,60.69 L316.65,60.71 L317.28,60.73 L317.91,60.75 L318.54,60.77 L319.17,60.79 L319.80,60.80" stroke="#1a1a1a" stroke-width="1" fill="none" />
<rect x="23.50" y="42.50" width="38.20" height="193.50" fill="none" stroke="#1a1a1a" stroke-width="1" />
<line x1="23.50" y1="65.00" x2="61.70" y2="65.00" stroke="#1a1a1a" stroke-width="2" />
<rect x="63.60" y="42.50" width="38.40" height="193.50" fill="none" stroke="#1a1a1a" stroke-width="1" />
<line x1="63.60" y1="65.00" x2="102.00" y2="65.00" stroke="#1a1a1a" stroke-width="2" />
<rect x="105.10" y="42.50" width="38.30" height="193.50" fill="none" stroke="#1a1a1a" stroke-width="1" />
<line x1="105.10" y1="65.00" x2="143.40" y2="65.00" stroke="#1a1a1a" stroke-width="2" />
<rect x="152.30" y="42.50" width="38.20" height="193.50" fill="none" stroke="#1a1a1a" stroke-width="1" />
<line x1="152.30" y1="65.00" x2="190.50" y2="65.00" stroke="#1a1a1a" stroke-width="2" />
<rect x="193.40" y="42.50" width="38.20" height="193.50" fill="none" stroke="#1a1a1a" stroke-width="1" />
<line x1="193.40" y1="65.00" x2="231.60" y2="65.00" stroke="#1a1a1a" stroke-width="2" />
<rect x="241.00" y="42.50" width="38.00" height="193.50" fill="none" stroke="#1a1a1a" stroke-width="1" />
<line x1="241.00" y1="65.00" x2="279.00" y2="65.00" stroke="#1a1a1a" stroke-width="2" />
<rect x="282.00" y="42.50" width="37.80" height="193.50" fill="none" stroke="#1a1a1a" stroke-width="1" />
<line x1="282.00" y1="65.00" x2="319.80" y2="65.00" stroke="#1a1a1a" stroke-width="2" />
<line x1="21.00" y1="49.60" x2="23.50" y2="49.60" stroke="#1a1a1a" stroke-width="0.8" />
<text transform="translate(20.50,51.20) scale(1,1.1)" font-size="7.5" font-weight="normal" text-anchor="end" fill="#1a1a1a" stroke="#1a1a1a" stroke-width="0.25" >0.4</text>
<line x1="21.00" y1="57.40" x2="23.50" y2="57.40" stroke="#1a1a1a" stroke-width="0.8" />
<line x1="21.00" y1="65.20" x2="23.50" y2="65.20" stroke="#1a1a1a" stroke-width="0.8" />
<text transform="translate(20.50,66.80) scale(1,1.1)" font-size="7.5" font-weight="normal" text-anchor="end" fill="#1a1a1a" stroke="#1a1a1a" stroke-width="0.25" >0</text>
<line x1="143.40" y1="42.60" x2="145.90" y2="42.60" stroke="#1a1a1a" stroke-width="0.8" />
<text transform="translate(146.40,44.40) scale(1,1.1)" font-size="7.5" font-weight="normal" text-anchor="start" fill="#1a1a1a" stroke="#1a1a1a" stroke-width="0.25" >1</text>
<line x1="143.40" y1="53.70" x2="145.90" y2="53.70" stroke="#1a1a1a" stroke-width="0.8" />
<line x1="143.40" y1="64.80" x2="145.90" y2="64.80" stroke="#1a1a1a" stroke-width="0.8" />
<text transform="translate(146.40,66.60) scale(1,1.1)" font-size="7.5" font-weight="normal" text-anchor="start" fill="#1a1a1a" stroke="#1a1a1a" stroke-width="0.25" >0</text>
<line x1="231.60" y1="42.60" x2="234.10" y2="42.60" stroke="#1a1a1a" stroke-width="0.8" />
<text transform="translate(234.60,44.40) scale(1,1.1)" font-size="7.5" font-weight="normal" text-anchor="start" fill="#1a1a1a" stroke="#1a1a1a" stroke-width="0.25" >6</text>
<line x1="231.60" y1="51.80" x2="234.10" y2="51.80" stroke="#1a1a1a" stroke-width="0.8" />
<line x1="231.60" y1="61.00" x2="234.10" y2="61.00" stroke="#1a1a1a" stroke-width="0.8" />
<text transform="translate(234.60,62.80) scale(1,1.1)" font-size="7.5" font-weight="normal" text-anchor="start" fill="#1a1a1a" stroke="#1a1a1a" stroke-width="0.25" >0</text>
<line x1="319.80" y1="42.60" x2="322.30" y2="42.60" stroke="#1a1a1a" stroke-width="0.8" />
<text transform="translate(322.80,44.40) scale(1,1.1)" font-size="7.5" font-weight="normal" text-anchor="start" fill="#1a1a1a" stroke="#1a1a1a" stroke-width="0.25" >150</text>
<line x1="319.80" y1="53.50" x2="322.30" y2="53.50" stroke="#1a1a1a" stroke-width="0.8" />
<line x1="319.80" y1="64.40" x2="322.30" y2="64.40" stroke="#1a1a1a" stroke-width="0.8" />
<text transform="translate(322.80,66.20) scale(1,1.1)" font-size="7.5" font-weight="normal" text-anchor="start" fill="#1a1a1a" stroke="#1a1a1a" stroke-width="0.25" >0</text>
<text transform="translate(23.80,244.20) scale(1,1.1)" font-size="7.5" font-weight="normal" text-anchor="start" fill="#1a1a1a" stroke="#1a1a1a" stroke-width="0.25" >-2</text>
<text transform="translate(44.60,244.20) scale(1,1.1)" font-size="7.5" font-weight="normal" text-anchor="middle" fill="#1a1a1a" stroke="#1a1a1a" stroke-width="0.25" >Center</text>
<text transform="translate(61.40,244.20) scale(1,1.1)" font-size="7.5" font-weight="normal" text-anchor="end" fill="#1a1a1a" stroke="#1a1a1a" stroke-width="0.25" >2</text>
<text transform="translate(63.90,244.20) scale(1,1.1)" font-size="7.5" font-weight="normal" text-anchor="start" fill="#1a1a1a" stroke="#1a1a1a" stroke-width="0.25" >-2</text>
<text transform="translate(84.80,244.20) scale(1,1.1)" font-size="7.5" font-weight="normal" text-anchor="middle" fill="#1a1a1a" stroke="#1a1a1a" stroke-width="0.25" >Center</text>
<text transform="translate(101.70,244.20) scale(1,1.1)" font-size="7.5" font-weight="normal" text-anchor="end" fill="#1a1a1a" stroke="#1a1a1a" stroke-width="0.25" >2</text>
<text transform="translate(105.40,244.20) scale(1,1.1)" font-size="7.5" font-weight="normal" text-anchor="start" fill="#1a1a1a" stroke="#1a1a1a" stroke-width="0.25" >-2</text>
<text transform="translate(126.25,244.20) scale(1,1.1)" font-size="7.5" font-weight="normal" text-anchor="middle" fill="#1a1a1a" stroke="#1a1a1a" stroke-width="0.25" >Center</text>
<text transform="translate(143.10,244.20) scale(1,1.1)" font-size="7.5" font-weight="normal" text-anchor="end" fill="#1a1a1a" stroke="#1a1a1a" stroke-width="0.25" >2</text>
<text transform="translate(152.60,244.20) scale(1,1.1)" font-size="7.5" font-weight="normal" text-anchor="start" fill="#1a1a1a" stroke="#1a1a1a" stroke-width="0.25" >-2</text>
<text transform="translate(173.40,244.20) scale(1,1.1)" font-size="7.5" font-weight="normal" text-anchor="middle" fill="#1a1a1a" stroke="#1a1a1a" stroke-width="0.25" >Center</text>
<text transform="translate(190.20,244.20) scale(1,1.1)" font-size="7.5" font-weight="normal" text-anchor="end" fill="#1a1a1a" stroke="#1a1a1a" stroke-width="0.25" >2</text>
<text transform="translate(193.70,244.20) scale(1,1.1)" font-size="7.5" font-weight="normal" text-anchor="start" fill="#1a1a1a" stroke="#1a1a1a" stroke-width="0.25" >-2</text>
<text transform="translate(214.50,244.20) scale(1,1.1)" font-size="7.5" font-weight="normal" text-anchor="middle" fill="#1a1a1a" stroke="#1a1a1a" stroke-width="0.25" >Center</text>
<text transform="translate(231.30,244.20) scale(1,1.1)" font-size="7.5" font-weight="normal" text-anchor="end" fill="#1a1a1a" stroke="#1a1a1a" stroke-width="0.25" >2</text>
<text transform="translate(241.30,244.20) scale(1,1.1)" font-size="7.5" font-weight="normal" text-anchor="start" fill="#1a1a1a" stroke="#1a1a1a" stroke-width="0.25" >-2</text>
<text transform="translate(262.00,244.20) scale(1,1.1)" font-size="7.5" font-weight="normal" text-anchor="middle" fill="#1a1a1a" stroke="#1a1a1a" stroke-width="0.25" >Center</text>
<text transform="translate(278.70,244.20) scale(1,1.1)" font-size="7.5" font-weight="normal" text-anchor="end" fill="#1a1a1a" stroke="#1a1a1a" stroke-width="0.25" >2</text>
<text transform="translate(282.30,244.20) scale(1,1.1)" font-size="7.5" font-weight="normal" text-anchor="start" fill="#1a1a1a" stroke="#1a1a1a" stroke-width="0.25" >-2</text>
<text transform="translate(302.90,244.20) scale(1,1.1)" font-size="7.5" font-weight="normal" text-anchor="middle" fill="#1a1a1a" stroke="#1a1a1a" stroke-width="0.25" >Center</text>
<text transform="translate(319.50,244.20) scale(1,1.1)" font-size="7.5" font-weight="normal" text-anchor="end" fill="#1a1a1a" stroke="#1a1a1a" stroke-width="0.25" >2</text>
<text transform="translate(336.00,244.20) scale(1,1.1)" font-size="7.5" font-weight="normal" text-anchor="end" fill="#1a1a1a" stroke="#1a1a1a" stroke-width="0.25" >(Kb)</text>
<text x="0.00" y="0.00" font-size="9.8" font-weight="normal" text-anchor="middle" fill="#1a1a1a" stroke="#1a1a1a" stroke-width="0.25" transform="translate(8.3,141) rotate(-90)">hyper-CG-DMRs in TCKO</text>
<text x="0.00" y="0.00" font-size="9.8" font-weight="normal" text-anchor="middle" fill="#1a1a1a" stroke="#1a1a1a" stroke-width="0.25" transform="translate(19,140.5) rotate(-90)">n=86595</text>
<text transform="translate(325.60,78.20) scale(1,1.1)" font-size="7.3" font-weight="bold" text-anchor="start" fill="#1a1a1a" stroke="#1a1a1a" stroke-width="0.25" >mCG Level</text>
<rect x="328.70" y="81.10" width="5.00" height="30.60" fill="url(#g19)" />
<line x1="328.70" y1="82.10" x2="330.00" y2="82.10" stroke="#fff" stroke-width="0.7" />
<line x1="332.40" y1="82.10" x2="333.70" y2="82.10" stroke="#fff" stroke-width="0.7" />
<line x1="328.70" y1="88.70" x2="330.00" y2="88.70" stroke="#fff" stroke-width="0.7" />
<line x1="332.40" y1="88.70" x2="333.70" y2="88.70" stroke="#fff" stroke-width="0.7" />
<line x1="328.70" y1="94.30" x2="330.00" y2="94.30" stroke="#fff" stroke-width="0.7" />
<line x1="332.40" y1="94.30" x2="333.70" y2="94.30" stroke="#fff" stroke-width="0.7" />
<line x1="328.70" y1="99.70" x2="330.00" y2="99.70" stroke="#fff" stroke-width="0.7" />
<line x1="332.40" y1="99.70" x2="333.70" y2="99.70" stroke="#fff" stroke-width="0.7" />
<line x1="328.70" y1="105.40" x2="330.00" y2="105.40" stroke="#fff" stroke-width="0.7" />
<line x1="332.40" y1="105.40" x2="333.70" y2="105.40" stroke="#fff" stroke-width="0.7" />
<text transform="translate(334.30,91.60) scale(1,1.1)" font-size="7.3" font-weight="normal" text-anchor="start" fill="#1a1a1a" stroke="#1a1a1a" stroke-width="0.25" >0.8</text>
<text transform="translate(334.30,102.80) scale(1,1.1)" font-size="7.3" font-weight="normal" text-anchor="start" fill="#1a1a1a" stroke="#1a1a1a" stroke-width="0.25" >0.4</text>
<text transform="translate(334.30,114.00) scale(1,1.1)" font-size="7.3" font-weight="normal" text-anchor="start" fill="#1a1a1a" stroke="#1a1a1a" stroke-width="0.25" >0</text>
<text transform="translate(325.60,130.00) scale(1,1.1)" font-size="7.3" font-weight="bold" text-anchor="start" fill="#1a1a1a" stroke="#1a1a1a" stroke-width="0.25" >5hmC-Seal</text>
<rect x="328.70" y="133.90" width="5.00" height="21.50" fill="url(#g20)" />
<line x1="328.70" y1="135.00" x2="330.00" y2="135.00" stroke="#fff" stroke-width="0.7" />
<line x1="332.40" y1="135.00" x2="333.70" y2="135.00" stroke="#fff" stroke-width="0.7" />
<line x1="328.70" y1="139.50" x2="330.00" y2="139.50" stroke="#fff" stroke-width="0.7" />
<line x1="332.40" y1="139.50" x2="333.70" y2="139.50" stroke="#fff" stroke-width="0.7" />
<line x1="328.70" y1="144.00" x2="330.00" y2="144.00" stroke="#fff" stroke-width="0.7" />
<line x1="332.40" y1="144.00" x2="333.70" y2="144.00" stroke="#fff" stroke-width="0.7" />
<line x1="328.70" y1="148.50" x2="330.00" y2="148.50" stroke="#fff" stroke-width="0.7" />
<line x1="332.40" y1="148.50" x2="333.70" y2="148.50" stroke="#fff" stroke-width="0.7" />
<text transform="translate(334.30,145.70) scale(1,1.1)" font-size="7.3" font-weight="normal" text-anchor="start" fill="#1a1a1a" stroke="#1a1a1a" stroke-width="0.25" >40</text>
<text transform="translate(334.30,158.40) scale(1,1.1)" font-size="7.3" font-weight="normal" text-anchor="start" fill="#1a1a1a" stroke="#1a1a1a" stroke-width="0.25" >0</text>
<text transform="translate(325.60,173.70) scale(1,1.1)" font-size="7.3" font-weight="bold" text-anchor="start" fill="#1a1a1a" stroke="#1a1a1a" stroke-width="0.25" >ATAC-seq</text>
<rect x="328.70" y="179.60" width="5.00" height="20.70" fill="url(#g21)" />
<line x1="328.70" y1="180.80" x2="330.00" y2="180.80" stroke="#fff" stroke-width="0.7" />
<line x1="332.40" y1="180.80" x2="333.70" y2="180.80" stroke="#fff" stroke-width="0.7" />
<line x1="328.70" y1="185.50" x2="330.00" y2="185.50" stroke="#fff" stroke-width="0.7" />
<line x1="332.40" y1="185.50" x2="333.70" y2="185.50" stroke="#fff" stroke-width="0.7" />
<line x1="328.70" y1="190.20" x2="330.00" y2="190.20" stroke="#fff" stroke-width="0.7" />
<line x1="332.40" y1="190.20" x2="333.70" y2="190.20" stroke="#fff" stroke-width="0.7" />
<line x1="328.70" y1="194.90" x2="330.00" y2="194.90" stroke="#fff" stroke-width="0.7" />
<line x1="332.40" y1="194.90" x2="333.70" y2="194.90" stroke="#fff" stroke-width="0.7" />
<text transform="translate(334.30,191.50) scale(1,1.1)" font-size="7.3" font-weight="normal" text-anchor="start" fill="#1a1a1a" stroke="#1a1a1a" stroke-width="0.25" >1000</text>
<text transform="translate(334.30,203.30) scale(1,1.1)" font-size="7.3" font-weight="normal" text-anchor="start" fill="#1a1a1a" stroke="#1a1a1a" stroke-width="0.25" >0</text>
<text x="343.85" y="12.40" font-size="17.5" font-weight="bold" text-anchor="start" fill="#1a1a1a" stroke="#1a1a1a" stroke-width="0.25" >b</text>
<circle cx="482.3" cy="137.8" r="75" fill="#917aa0"/>
<circle cx="572" cy="137.8" r="51" fill="#c4d3ea"/>
<circle cx="572" cy="137.8" r="51" fill="#a0abc9" clip-path="url(#cpbig)"/>
<text transform="translate(578.00,44.00) scale(1,1.1)" font-size="12.3" font-weight="normal" text-anchor="middle" fill="#1a1a1a" stroke="#1a1a1a" stroke-width="0.25" >Overlap of hyper-CG-DMR</text>
<text transform="translate(581.50,62.20) scale(1,1.1)" font-size="12.3" font-weight="normal" text-anchor="middle" fill="#1a1a1a" stroke="#1a1a1a" stroke-width="0.25" >and oC-R (n=10030)</text>
<line x1="550.50" y1="79.00" x2="536.30" y2="123.50" stroke="#1a1a1a" stroke-width="1.2" />
<text transform="translate(467.70,131.20) scale(1,1.1)" font-size="12.3" font-weight="normal" text-anchor="middle" fill="#1a1a1a" stroke="#1a1a1a" stroke-width="0.25" >Hyper-CG-DMR</text>
<text transform="translate(463.80,145.50) scale(1,1.1)" font-size="10" font-weight="normal" text-anchor="middle" fill="#1a1a1a" stroke="#1a1a1a" stroke-width="0.25" >(n=86598)</text>
<text transform="translate(590.00,131.20) scale(1,1.1)" font-size="12.3" font-weight="normal" text-anchor="middle" fill="#1a1a1a" stroke="#1a1a1a" stroke-width="0.25" >oC-R</text>
<text transform="translate(592.80,145.50) scale(1,1.1)" font-size="10" font-weight="normal" text-anchor="middle" fill="#1a1a1a" stroke="#1a1a1a" stroke-width="0.25" >(n=39643)</text>
<text x="0.40" y="264.50" font-size="17.5" font-weight="bold" text-anchor="start" fill="#1a1a1a" stroke="#1a1a1a" stroke-width="0.25" >c</text>
<text transform="translate(172.20,288.00) scale(1,1.1)" font-size="9.8" font-weight="bold" text-anchor="middle" fill="#1a1a1a" stroke="#1a1a1a" stroke-width="0.25" >%</text>
<text transform="translate(220.20,288.00) scale(1,1.1)" font-size="9.8" font-weight="bold" text-anchor="middle" fill="#1a1a1a" stroke="#1a1a1a" stroke-width="0.25" >%</text>
<text transform="translate(63.20,304.00) scale(1,1.1)" font-size="9.8" font-weight="bold" text-anchor="middle" fill="#1a1a1a" stroke="#1a1a1a" stroke-width="0.25" >Motifs</text>
<text transform="translate(134.60,304.00) scale(1,1.1)" font-size="9.8" font-weight="bold" text-anchor="middle" fill="#1a1a1a" stroke="#1a1a1a" stroke-width="0.25" >P-value</text>
<text transform="translate(173.10,304.00) scale(1,1.1)" font-size="9.8" font-weight="bold" text-anchor="middle" fill="#1a1a1a" stroke="#1a1a1a" stroke-width="0.25" >Target</text>
<text transform="translate(221.40,304.00) scale(1,1.1)" font-size="9.8" font-weight="bold" text-anchor="middle" fill="#1a1a1a" stroke="#1a1a1a" stroke-width="0.25" >Background</text>
<text transform="translate(291.50,304.00) scale(1,1.1)" font-size="9.8" font-weight="bold" text-anchor="middle" fill="#1a1a1a" stroke="#1a1a1a" stroke-width="0.25" >Potential TFs</text>
<line x1="15.00" y1="308.70" x2="111.70" y2="308.70" stroke="#1a1a1a" stroke-width="1.3" />
<line x1="115.00" y1="308.70" x2="154.30" y2="308.70" stroke="#1a1a1a" stroke-width="1.3" />
<line x1="159.00" y1="308.70" x2="186.90" y2="308.70" stroke="#1a1a1a" stroke-width="1.3" />
<line x1="197.00" y1="308.70" x2="248.50" y2="308.70" stroke="#1a1a1a" stroke-width="1.3" />
<line x1="256.00" y1="308.70" x2="326.00" y2="308.70" stroke="#1a1a1a" stroke-width="1.3" />
<text transform="translate(63.30,320.90) scale(1,1.1)" font-size="9.8" font-weight="normal" text-anchor="middle" fill="#1a1a1a" stroke="#1a1a1a" stroke-width="0.25" >Runt</text>
<use href="#glA" fill="#3fae2a" transform="translate(19.44,334.60) scale(0.0062,-0.0077)"/>
<use href="#glT" fill="#d3262a" transform="translate(19.59,337.40) scale(0.0070,-0.0020)"/>
<use href="#glC" fill="#2b49b4" transform="translate(19.22,339.47) scale(0.0063,-0.0014)"/>
<use href="#glA" fill="#3fae2a" transform="translate(28.20,339.50) scale(0.0062,-0.0124)"/>
<use href="#glA" fill="#3fae2a" transform="translate(36.96,339.50) scale(0.0062,-0.0124)"/>
<use href="#glC" fill="#2b49b4" transform="translate(45.50,339.26) scale(0.0063,-0.0121)"/>
<use href="#glC" fill="#2b49b4" transform="translate(54.26,339.26) scale(0.0063,-0.0121)"/>
<use href="#glA" fill="#3fae2a" transform="translate(63.24,339.50) scale(0.0062,-0.0124)"/>
<use href="#glC" fill="#2b49b4" transform="translate(71.78,339.26) scale(0.0063,-0.0121)"/>
<use href="#glA" fill="#3fae2a" transform="translate(80.76,339.50) scale(0.0062,-0.0124)"/>
<use href="#glA" fill="#3fae2a" transform="translate(89.52,331.45) scale(0.0062,-0.0047)"/>
<use href="#glG" fill="#f39b1d" transform="translate(89.32,336.97) scale(0.0061,-0.0039)"/>
<use href="#glT" fill="#d3262a" transform="translate(89.67,339.50) scale(0.0070,-0.0017)"/>
<use href="#glA" fill="#3fae2a" transform="translate(98.28,330.05) scale(0.0062,-0.0037)"/>
<use href="#glC" fill="#2b49b4" transform="translate(98.06,336.61) scale(0.0063,-0.0046)"/>
<use href="#glT" fill="#d3262a" transform="translate(98.43,339.50) scale(0.0070,-0.0020)"/>
<text transform="translate(125.6,337.9) scale(1,1.1)" font-size="9.8" fill="#1a1a1a" stroke="#1a1a1a" stroke-width="0.25">1e<tspan font-size="5.6" dy="-3.6">-83</tspan></text>
<text transform="translate(172.90,336.80) scale(1,1.1)" font-size="9.8" font-weight="normal" text-anchor="middle" fill="#1a1a1a" stroke="#1a1a1a" stroke-width="0.25" >23.50%</text>
<text transform="translate(221.40,336.80) scale(1,1.1)" font-size="9.8" font-weight="normal" text-anchor="middle" fill="#1a1a1a" stroke="#1a1a1a" stroke-width="0.25" >9.16%</text>
<text transform="translate(291.00,330.50) scale(1,1.1)" font-size="9.8" font-weight="normal" text-anchor="middle" fill="#1a1a1a" stroke="#1a1a1a" stroke-width="0.25" >RUNX1/RUNX/</text>
<text transform="translate(291.00,342.30) scale(1,1.1)" font-size="9.8" font-weight="normal" text-anchor="middle" fill="#1a1a1a" stroke="#1a1a1a" stroke-width="0.25" >/RUNX2/RUNX-AML</text>
<text transform="translate(63.30,355.60) scale(1,1.1)" font-size="9.8" font-weight="normal" text-anchor="middle" fill="#1a1a1a" stroke="#1a1a1a" stroke-width="0.25" >CTF</text>
<use href="#glT" fill="#d3262a" transform="translate(25.98,367.48) scale(0.0075,-0.0057)"/>
<use href="#glC" fill="#2b49b4" transform="translate(25.58,373.10) scale(0.0068,-0.0039)"/>
<use href="#glG" fill="#f39b1d" transform="translate(25.60,376.55) scale(0.0066,-0.0024)"/>
<use href="#glT" fill="#d3262a" transform="translate(35.36,376.60) scale(0.0075,-0.0135)"/>
<use href="#glG" fill="#f39b1d" transform="translate(44.37,376.34) scale(0.0066,-0.0131)"/>
<use href="#glC" fill="#2b49b4" transform="translate(53.74,369.60) scale(0.0068,-0.0081)"/>
<use href="#glG" fill="#f39b1d" transform="translate(53.76,376.51) scale(0.0066,-0.0047)"/>
<use href="#glC" fill="#2b49b4" transform="translate(63.13,376.34) scale(0.0068,-0.0131)"/>
<use href="#glA" fill="#3fae2a" transform="translate(72.75,376.60) scale(0.0066,-0.0135)"/>
<use href="#glA" fill="#3fae2a" transform="translate(82.14,369.00) scale(0.0066,-0.0076)"/>
<use href="#glG" fill="#f39b1d" transform="translate(81.92,376.50) scale(0.0066,-0.0052)"/>
<use href="#glG" fill="#f39b1d" transform="translate(91.31,366.61) scale(0.0066,-0.0055)"/>
<use href="#glC" fill="#2b49b4" transform="translate(91.29,372.72) scale(0.0068,-0.0042)"/>
<use href="#glA" fill="#3fae2a" transform="translate(91.53,376.60) scale(0.0066,-0.0027)"/>
<text transform="translate(125.6,375) scale(1,1.1)" font-size="9.8" fill="#1a1a1a" stroke="#1a1a1a" stroke-width="0.25">1e<tspan font-size="5.6" dy="-3.6">-62</tspan></text>
<text transform="translate(172.90,373.20) scale(1,1.1)" font-size="9.8" font-weight="normal" text-anchor="middle" fill="#1a1a1a" stroke="#1a1a1a" stroke-width="0.25" >28.65%</text>
<text transform="translate(221.40,373.20) scale(1,1.1)" font-size="9.8" font-weight="normal" text-anchor="middle" fill="#1a1a1a" stroke="#1a1a1a" stroke-width="0.25" >15.43%</text>
<text transform="translate(291.00,373.40) scale(1,1.1)" font-size="9.8" font-weight="normal" text-anchor="middle" fill="#1a1a1a" stroke="#1a1a1a" stroke-width="0.25" >NF1-halfsite/NF1</text>
<text transform="translate(63.30,392.00) scale(1,1.1)" font-size="9.8" font-weight="normal" text-anchor="middle" fill="#1a1a1a" stroke="#1a1a1a" stroke-width="0.25" >TEA/TEAD</text>
<use href="#glT" fill="#d3262a" transform="translate(18.08,403.43) scale(0.0073,-0.0047)"/>
<use href="#glC" fill="#2b49b4" transform="translate(17.70,407.42) scale(0.0065,-0.0028)"/>
<use href="#glA" fill="#3fae2a" transform="translate(17.93,413.00) scale(0.0064,-0.0039)"/>
<use href="#glG" fill="#f39b1d" transform="translate(26.77,402.79) scale(0.0063,-0.0046)"/>
<use href="#glA" fill="#3fae2a" transform="translate(26.98,413.00) scale(0.0064,-0.0072)"/>
<use href="#glC" fill="#2b49b4" transform="translate(35.80,407.32) scale(0.0065,-0.0082)"/>
<use href="#glA" fill="#3fae2a" transform="translate(36.03,413.00) scale(0.0064,-0.0039)"/>
<use href="#glA" fill="#3fae2a" transform="translate(45.08,413.00) scale(0.0064,-0.0131)"/>
<use href="#glT" fill="#d3262a" transform="translate(54.28,413.00) scale(0.0073,-0.0131)"/>
<use href="#glT" fill="#d3262a" transform="translate(63.33,413.00) scale(0.0073,-0.0131)"/>
<use href="#glC" fill="#2b49b4" transform="translate(72.00,412.75) scale(0.0065,-0.0127)"/>
<use href="#glC" fill="#2b49b4" transform="translate(81.05,412.75) scale(0.0065,-0.0127)"/>
<use href="#glA" fill="#3fae2a" transform="translate(90.33,411.16) scale(0.0064,-0.0111)"/>
<use href="#glC" fill="#2b49b4" transform="translate(90.10,412.97) scale(0.0065,-0.0013)"/>
<use href="#glG" fill="#f39b1d" transform="translate(99.17,404.06) scale(0.0063,-0.0053)"/>
<use href="#glT" fill="#d3262a" transform="translate(99.53,407.85) scale(0.0073,-0.0026)"/>
<use href="#glA" fill="#3fae2a" transform="translate(99.38,411.16) scale(0.0064,-0.0024)"/>
<use href="#glC" fill="#2b49b4" transform="translate(99.15,412.97) scale(0.0065,-0.0013)"/>
<text transform="translate(125.6,411.4) scale(1,1.1)" font-size="9.8" fill="#1a1a1a" stroke="#1a1a1a" stroke-width="0.25">1e<tspan font-size="5.6" dy="-3.6">-32</tspan></text>
<text transform="translate(172.90,409.70) scale(1,1.1)" font-size="9.8" font-weight="normal" text-anchor="middle" fill="#1a1a1a" stroke="#1a1a1a" stroke-width="0.25" >19.58%</text>
<text transform="translate(221.40,409.70) scale(1,1.1)" font-size="9.8" font-weight="normal" text-anchor="middle" fill="#1a1a1a" stroke="#1a1a1a" stroke-width="0.25" >10.70%</text>
<text transform="translate(291.00,403.80) scale(1,1.1)" font-size="9.8" font-weight="normal" text-anchor="middle" fill="#1a1a1a" stroke="#1a1a1a" stroke-width="0.25" >TEAD3/TEAD/</text>
<text transform="translate(291.00,415.50) scale(1,1.1)" font-size="9.8" font-weight="normal" text-anchor="middle" fill="#1a1a1a" stroke="#1a1a1a" stroke-width="0.25" >TEAD1/TEAD4</text>
<text transform="translate(63.30,428.80) scale(1,1.1)" font-size="9.8" font-weight="normal" text-anchor="middle" fill="#1a1a1a" stroke="#1a1a1a" stroke-width="0.25" >bZIP</text>
<use href="#glG" fill="#f39b1d" transform="translate(10.94,438.95) scale(0.0060,-0.0044)"/>
<use href="#glT" fill="#d3262a" transform="translate(11.29,442.57) scale(0.0069,-0.0025)"/>
<use href="#glA" fill="#3fae2a" transform="translate(11.14,446.11) scale(0.0061,-0.0025)"/>
<use href="#glC" fill="#2b49b4" transform="translate(10.93,449.26) scale(0.0062,-0.0022)"/>
<use href="#glG" fill="#f39b1d" transform="translate(19.59,438.59) scale(0.0060,-0.0044)"/>
<use href="#glA" fill="#3fae2a" transform="translate(19.79,442.57) scale(0.0061,-0.0028)"/>
<use href="#glT" fill="#d3262a" transform="translate(19.94,445.76) scale(0.0069,-0.0023)"/>
<use href="#glC" fill="#2b49b4" transform="translate(19.58,449.25) scale(0.0062,-0.0024)"/>
<use href="#glA" fill="#3fae2a" transform="translate(28.44,442.57) scale(0.0061,-0.0070)"/>
<use href="#glG" fill="#f39b1d" transform="translate(28.24,445.72) scale(0.0060,-0.0022)"/>
<use href="#glC" fill="#2b49b4" transform="translate(28.23,449.25) scale(0.0062,-0.0024)"/>
<use href="#glT" fill="#d3262a" transform="translate(37.24,449.30) scale(0.0069,-0.0126)"/>
<use href="#glG" fill="#f39b1d" transform="translate(45.54,449.06) scale(0.0060,-0.0122)"/>
<use href="#glA" fill="#3fae2a" transform="translate(54.39,449.30) scale(0.0061,-0.0126)"/>
<use href="#glC" fill="#2b49b4" transform="translate(62.83,443.84) scale(0.0062,-0.0073)"/>
<use href="#glG" fill="#f39b1d" transform="translate(62.84,449.23) scale(0.0060,-0.0037)"/>
<use href="#glT" fill="#d3262a" transform="translate(71.84,449.30) scale(0.0069,-0.0126)"/>
<use href="#glC" fill="#2b49b4" transform="translate(80.13,449.06) scale(0.0062,-0.0122)"/>
<use href="#glA" fill="#3fae2a" transform="translate(88.99,449.30) scale(0.0061,-0.0126)"/>
<use href="#glT" fill="#d3262a" transform="translate(97.79,440.98) scale(0.0069,-0.0057)"/>
<use href="#glC" fill="#2b49b4" transform="translate(97.43,445.34) scale(0.0062,-0.0031)"/>
<use href="#glG" fill="#f39b1d" transform="translate(97.44,449.25) scale(0.0060,-0.0027)"/>
<use href="#glC" fill="#2b49b4" transform="translate(106.08,439.29) scale(0.0062,-0.0049)"/>
<use href="#glT" fill="#d3262a" transform="translate(106.44,443.81) scale(0.0069,-0.0031)"/>
<use href="#glA" fill="#3fae2a" transform="translate(106.29,446.65) scale(0.0061,-0.0020)"/>
<use href="#glG" fill="#f39b1d" transform="translate(106.09,449.26) scale(0.0060,-0.0018)"/>
<text transform="translate(125.6,447.9) scale(1,1.1)" font-size="9.8" fill="#1a1a1a" stroke="#1a1a1a" stroke-width="0.25">1e<tspan font-size="5.6" dy="-3.6">-32</tspan></text>
<text transform="translate(172.90,446.10) scale(1,1.1)" font-size="9.8" font-weight="normal" text-anchor="middle" fill="#1a1a1a" stroke="#1a1a1a" stroke-width="0.25" >9.03%</text>
<text transform="translate(221.40,446.10) scale(1,1.1)" font-size="9.8" font-weight="normal" text-anchor="middle" fill="#1a1a1a" stroke="#1a1a1a" stroke-width="0.25" >3.39%</text>
<text transform="translate(291.00,434.30) scale(1,1.1)" font-size="9.8" font-weight="normal" text-anchor="middle" fill="#1a1a1a" stroke="#1a1a1a" stroke-width="0.25" >Fra2/Fra1/Fosl2/</text>
<text transform="translate(291.00,446.00) scale(1,1.1)" font-size="9.8" font-weight="normal" text-anchor="middle" fill="#1a1a1a" stroke="#1a1a1a" stroke-width="0.25" >BATF/Atf3/JunB/</text>
<text transform="translate(291.00,457.90) scale(1,1.1)" font-size="9.8" font-weight="normal" text-anchor="middle" fill="#1a1a1a" stroke="#1a1a1a" stroke-width="0.25" >AP-1/Jun-AP1/</text>
<text transform="translate(63.30,466.00) scale(1,1.1)" font-size="9.8" font-weight="normal" text-anchor="middle" fill="#1a1a1a" stroke="#1a1a1a" stroke-width="0.25" >RHD</text>
<use href="#glA" fill="#3fae2a" transform="translate(15.64,479.06) scale(0.0061,-0.0075)"/>
<use href="#glT" fill="#d3262a" transform="translate(15.79,485.07) scale(0.0069,-0.0043)"/>
<use href="#glG" fill="#f39b1d" transform="translate(15.44,486.18) scale(0.0061,-0.0008)"/>
<use href="#glT" fill="#d3262a" transform="translate(24.46,479.43) scale(0.0069,-0.0067)"/>
<use href="#glG" fill="#f39b1d" transform="translate(24.11,482.77) scale(0.0061,-0.0023)"/>
<use href="#glC" fill="#2b49b4" transform="translate(24.10,486.15) scale(0.0063,-0.0023)"/>
<use href="#glT" fill="#d3262a" transform="translate(33.14,486.20) scale(0.0069,-0.0133)"/>
<use href="#glT" fill="#d3262a" transform="translate(41.81,486.20) scale(0.0069,-0.0133)"/>
<use href="#glT" fill="#d3262a" transform="translate(50.48,486.20) scale(0.0069,-0.0133)"/>
<use href="#glT" fill="#d3262a" transform="translate(59.15,486.20) scale(0.0069,-0.0133)"/>
<use href="#glC" fill="#2b49b4" transform="translate(67.46,485.94) scale(0.0063,-0.0130)"/>
<use href="#glC" fill="#2b49b4" transform="translate(76.13,485.94) scale(0.0063,-0.0130)"/>
<use href="#glA" fill="#3fae2a" transform="translate(85.02,486.20) scale(0.0061,-0.0133)"/>
<use href="#glT" fill="#d3262a" transform="translate(93.84,479.06) scale(0.0069,-0.0073)"/>
<use href="#glC" fill="#2b49b4" transform="translate(93.48,484.62) scale(0.0063,-0.0039)"/>
<use href="#glG" fill="#f39b1d" transform="translate(93.50,486.18) scale(0.0061,-0.0010)"/>
<use href="#glT" fill="#d3262a" transform="translate(102.52,478.30) scale(0.0069,-0.0064)"/>
<use href="#glC" fill="#2b49b4" transform="translate(102.15,483.12) scale(0.0063,-0.0034)"/>
<use href="#glG" fill="#f39b1d" transform="translate(102.17,486.16) scale(0.0061,-0.0021)"/>
<text transform="translate(125.6,484.6) scale(1,1.1)" font-size="9.8" fill="#1a1a1a" stroke="#1a1a1a" stroke-width="0.25">1e<tspan font-size="5.6" dy="-3.6">-23</tspan></text>
<text transform="translate(172.90,482.80) scale(1,1.1)" font-size="9.8" font-weight="normal" text-anchor="middle" fill="#1a1a1a" stroke="#1a1a1a" stroke-width="0.25" >16.28%</text>
<text transform="translate(221.40,482.80) scale(1,1.1)" font-size="9.8" font-weight="normal" text-anchor="middle" fill="#1a1a1a" stroke="#1a1a1a" stroke-width="0.25" >9.26%</text>
<text transform="translate(291.00,482.70) scale(1,1.1)" font-size="9.8" font-weight="normal" text-anchor="middle" fill="#1a1a1a" stroke="#1a1a1a" stroke-width="0.25" >NFAT</text>
<text x="345.20" y="264.50" font-size="17.5" font-weight="bold" text-anchor="start" fill="#1a1a1a" stroke="#1a1a1a" stroke-width="0.25" >d</text>
<text transform="translate(386.00,278.20) scale(1,1.1)" font-size="9.8" font-weight="bold" text-anchor="middle" fill="#1a1a1a" stroke="#1a1a1a" stroke-width="0.25" >RUNX2</text>
<text transform="translate(387.00,289.80) scale(1,1.1)" font-size="9.8" font-weight="bold" text-anchor="middle" fill="#1a1a1a" stroke="#1a1a1a" stroke-width="0.25" >ChIP-seq</text>
<text transform="translate(479.60,279.00) scale(1,1.1)" font-size="12.3" font-weight="bold" text-anchor="middle" fill="#1a1a1a" stroke="#1a1a1a" stroke-width="0.25" >WGBS</text>
<text transform="translate(575.80,279.60) scale(1,1.1)" font-size="12.3" font-weight="bold" text-anchor="middle" fill="#1a1a1a" stroke="#1a1a1a" stroke-width="0.25" >ATAC-seq</text>
<line x1="424.80" y1="284.00" x2="526.00" y2="284.00" stroke="#1a1a1a" stroke-width="1.4" />
<line x1="543.30" y1="284.00" x2="606.70" y2="284.00" stroke="#1a1a1a" stroke-width="1.4" />
<text transform="translate(438.00,294.20) scale(1,1.1)" font-size="7.3" font-weight="bold" text-anchor="middle" fill="#1a1a1a" stroke="#1a1a1a" stroke-width="0.25" >TCKO over WT</text>
<text transform="translate(476.90,294.20) scale(1,1.1)" font-size="7.3" font-weight="bold" text-anchor="middle" fill="#1a1a1a" stroke="#1a1a1a" stroke-width="0.25" >WT</text>
<text transform="translate(512.60,294.20) scale(1,1.1)" font-size="7.3" font-weight="bold" text-anchor="middle" fill="#1a1a1a" stroke="#1a1a1a" stroke-width="0.25" >TCKO</text>
<text transform="translate(556.50,294.20) scale(1,1.1)" font-size="7.3" font-weight="bold" text-anchor="middle" fill="#1a1a1a" stroke="#1a1a1a" stroke-width="0.25" >WT</text>
<text transform="translate(594.90,294.20) scale(1,1.1)" font-size="7.3" font-weight="bold" text-anchor="middle" fill="#1a1a1a" stroke="#1a1a1a" stroke-width="0.25" >TCKO</text>
<rect x="369.30" y="314.50" width="36.30" height="173.30" fill="#fefbf4" />
<polygon points="383.65000000000003,314.5 391.45000000000005,314.5 390.75000000000006,326.5 390.05000000000007,349.5 389.65000000000003,384.5 389.25000000000006,424.5 388.65000000000003,464.5 386.25000000000006,464.5 385.65000000000003,424.5 385.25000000000006,384.5 384.85,349.5 384.25000000000006,326.5" fill="url(#g22)" filter="url(#blurG)"/>
<rect x="369.30" y="314.50" width="36.30" height="173.30" fill="#000" filter="url(#f20)"/>
<rect x="418.80" y="314.50" width="36.40" height="173.30" fill="#e2dcf0" />
<rect x="418.80" y="314.50" width="36.40" height="173.30" fill="url(#g23)" />
<rect x="418.80" y="314.50" width="36.40" height="173.30" fill="#000" filter="url(#f21)"/>
<rect x="418.80" y="314.50" width="36.40" height="173.30" fill="#000" filter="url(#f22)"/>
<rect x="418.80" y="314.50" width="36.40" height="173.30" fill="#000" filter="url(#f23)"/>
<rect x="457.70" y="314.50" width="35.90" height="173.30" fill="#604c9b" />
<rect x="457.70" y="314.50" width="35.90" height="173.30" fill="url(#g24)" />
<rect x="457.70" y="314.50" width="35.90" height="173.30" fill="url(#g25)" />
<rect x="457.70" y="314.50" width="35.90" height="173.30" fill="#000" filter="url(#f24)"/>
<rect x="457.70" y="314.50" width="35.90" height="173.30" fill="#000" filter="url(#f25)"/>
<rect x="457.70" y="314.50" width="35.90" height="173.30" fill="#000" filter="url(#f26)"/>
<rect x="457.70" y="314.50" width="35.90" height="173.30" fill="#000" filter="url(#f27)"/>
<rect x="495.00" y="314.50" width="36.60" height="173.30" fill="#64509e" />
<rect x="495.00" y="314.50" width="36.60" height="173.30" fill="url(#g26)" />
<rect x="495.00" y="314.50" width="36.60" height="173.30" fill="#000" filter="url(#f28)"/>
<rect x="495.00" y="314.50" width="36.60" height="173.30" fill="#000" filter="url(#f29)"/>
<rect x="495.00" y="314.50" width="36.60" height="173.30" fill="#000" filter="url(#f30)"/>
<rect x="495.00" y="314.50" width="36.60" height="173.30" fill="#000" filter="url(#f31)"/>
<rect x="538.40" y="314.50" width="36.00" height="173.30" fill="#f8f9fd" />
<rect x="538.40" y="314.50" width="36.00" height="173.30" fill="url(#g27)" mask="url(#m28)"/>
<g mask="url(#m30)"><rect x="549.40" y="314.50" width="14.00" height="103.98" fill="#000" filter="url(#f32)"/></g>
<rect x="538.40" y="314.50" width="36.00" height="173.30" fill="#000" filter="url(#f33)"/>
<rect x="538.40" y="314.50" width="36.00" height="173.30" fill="#000" filter="url(#f34)"/>
<rect x="576.00" y="314.50" width="36.00" height="173.30" fill="#f9f9fd" />
<rect x="576.00" y="314.50" width="36.00" height="173.30" fill="url(#g32)" mask="url(#m33)"/>
<g mask="url(#m35)"><rect x="588.00" y="314.50" width="12.00" height="86.65" fill="#000" filter="url(#f35)"/></g>
<rect x="576.00" y="314.50" width="36.00" height="173.30" fill="#000" filter="url(#f36)"/>
<rect x="576.00" y="314.50" width="36.00" height="173.30" fill="#000" filter="url(#f37)"/>
<rect x="369.30" y="297.80" width="36.30" height="15.60" fill="#fff" />
<rect x="418.80" y="297.80" width="36.40" height="15.60" fill="#fff" />
<rect x="457.70" y="297.80" width="35.90" height="15.60" fill="#fff" />
<rect x="495.00" y="297.80" width="36.60" height="15.60" fill="#fff" />
<rect x="538.40" y="297.80" width="36.00" height="15.60" fill="#fff" />
<rect x="576.00" y="297.80" width="36.00" height="15.60" fill="#fff" />
<line x1="387.45" y1="297.80" x2="387.45" y2="487.80" stroke="#262626" stroke-width="1.3" stroke-dasharray="3.5,3.94" stroke-dashoffset="6.6"/>
<path d="M369.30,312.00 L369.91,312.00 L370.51,312.00 L371.12,312.00 L371.72,312.00 L372.32,312.00 L372.93,312.00 L373.54,312.00 L374.14,312.00 L374.75,312.00 L375.35,312.00 L375.96,312.00 L376.56,312.00 L377.17,312.00 L377.77,311.99 L378.38,311.97 L378.98,311.94 L379.59,311.88 L380.19,311.75 L380.80,311.54 L381.40,311.17 L382.00,310.59 L382.61,309.74 L383.22,308.56 L383.82,307.07 L384.43,305.31 L385.03,303.41 L385.63,301.56 L386.24,300.01 L386.85,298.97 L387.45,298.60 L388.06,298.97 L388.66,300.01 L389.27,301.56 L389.87,303.41 L390.48,305.31 L391.08,307.07 L391.69,308.56 L392.29,309.74 L392.90,310.59 L393.50,311.17 L394.11,311.54 L394.71,311.75 L395.31,311.88 L395.92,311.94 L396.53,311.97 L397.13,311.99 L397.74,312.00 L398.34,312.00 L398.95,312.00 L399.55,312.00 L400.16,312.00 L400.76,312.00 L401.37,312.00 L401.97,312.00 L402.58,312.00 L403.18,312.00 L403.79,312.00 L404.39,312.00 L405.00,312.00 L405.60,312.00" stroke="#1a1a1a" stroke-width="1" fill="none" />
<line x1="437.00" y1="297.80" x2="437.00" y2="487.80" stroke="#262626" stroke-width="1.3" stroke-dasharray="3.5,3.94" stroke-dashoffset="6.6"/>
<path d="M418.80,311.50 L419.41,311.46 L420.01,311.41 L420.62,311.36 L421.23,311.31 L421.83,311.25 L422.44,311.19 L423.05,311.12 L423.65,311.04 L424.26,310.96 L424.87,310.87 L425.47,310.77 L426.08,310.65 L426.69,310.53 L427.29,310.39 L427.90,310.23 L428.51,310.05 L429.11,309.85 L429.72,309.62 L430.33,309.34 L430.93,309.03 L431.54,308.65 L432.15,308.20 L432.75,307.66 L433.36,307.00 L433.97,306.17 L434.57,305.14 L435.18,303.82 L435.79,302.16 L436.39,300.12 L437.00,298.20 L437.61,300.12 L438.21,302.16 L438.82,303.82 L439.43,305.14 L440.03,306.17 L440.64,307.00 L441.25,307.66 L441.85,308.20 L442.46,308.65 L443.07,309.03 L443.67,309.34 L444.28,309.62 L444.89,309.85 L445.49,310.05 L446.10,310.23 L446.71,310.39 L447.31,310.53 L447.92,310.65 L448.53,310.77 L449.13,310.87 L449.74,310.96 L450.35,311.04 L450.95,311.12 L451.56,311.19 L452.17,311.25 L452.77,311.31 L453.38,311.36 L453.99,311.41 L454.59,311.46 L455.20,311.50" stroke="#1a1a1a" stroke-width="1" fill="none" />
<line x1="475.65" y1="297.80" x2="475.65" y2="487.80" stroke="#262626" stroke-width="1.3" stroke-dasharray="3.5,3.94" stroke-dashoffset="6.6"/>
<path d="M457.70,302.00 L458.30,302.03 L458.90,302.06 L459.50,302.10 L460.09,302.14 L460.69,302.18 L461.29,302.22 L461.89,302.27 L462.49,302.33 L463.08,302.39 L463.68,302.45 L464.28,302.52 L464.88,302.60 L465.48,302.69 L466.08,302.79 L466.68,302.91 L467.27,303.03 L467.87,303.18 L468.47,303.35 L469.07,303.54 L469.67,303.77 L470.26,304.03 L470.86,304.35 L471.46,304.74 L472.06,305.22 L472.66,305.80 L473.26,306.54 L473.86,307.48 L474.45,308.67 L475.05,310.13 L475.65,311.50 L476.25,310.13 L476.85,308.67 L477.44,307.48 L478.04,306.54 L478.64,305.80 L479.24,305.22 L479.84,304.74 L480.44,304.35 L481.04,304.03 L481.63,303.77 L482.23,303.54 L482.83,303.35 L483.43,303.18 L484.03,303.03 L484.62,302.91 L485.22,302.79 L485.82,302.69 L486.42,302.60 L487.02,302.52 L487.62,302.45 L488.22,302.39 L488.81,302.33 L489.41,302.27 L490.01,302.22 L490.61,302.18 L491.21,302.14 L491.81,302.10 L492.40,302.06 L493.00,302.03 L493.60,302.00" stroke="#1a1a1a" stroke-width="1" fill="none" />
<line x1="513.30" y1="297.80" x2="513.30" y2="487.80" stroke="#262626" stroke-width="1.3" stroke-dasharray="3.5,3.94" stroke-dashoffset="6.6"/>
<path d="M495.00,302.00 L495.61,302.02 L496.22,302.04 L496.83,302.06 L497.44,302.08 L498.05,302.10 L498.66,302.12 L499.27,302.15 L499.88,302.18 L500.49,302.21 L501.10,302.25 L501.71,302.29 L502.32,302.33 L502.93,302.38 L503.54,302.43 L504.15,302.50 L504.76,302.56 L505.37,302.64 L505.98,302.73 L506.59,302.83 L507.20,302.95 L507.81,303.09 L508.42,303.25 L509.03,303.45 L509.64,303.69 L510.25,303.98 L510.86,304.33 L511.47,304.77 L512.08,305.31 L512.69,305.93 L513.30,306.50 L513.91,305.93 L514.52,305.31 L515.13,304.77 L515.74,304.33 L516.35,303.98 L516.96,303.69 L517.57,303.45 L518.18,303.25 L518.79,303.09 L519.40,302.95 L520.01,302.83 L520.62,302.73 L521.23,302.64 L521.84,302.56 L522.45,302.50 L523.06,302.43 L523.67,302.38 L524.28,302.33 L524.89,302.29 L525.50,302.25 L526.11,302.21 L526.72,302.18 L527.33,302.15 L527.94,302.12 L528.55,302.10 L529.16,302.08 L529.77,302.06 L530.38,302.04 L530.99,302.02 L531.60,302.00" stroke="#1a1a1a" stroke-width="1" fill="none" />
<line x1="556.40" y1="297.80" x2="556.40" y2="487.80" stroke="#262626" stroke-width="1.3" stroke-dasharray="3.5,3.94" stroke-dashoffset="6.6"/>
<path d="M538.40,312.40 L539.00,312.36 L539.60,312.32 L540.20,312.28 L540.80,312.23 L541.40,312.17 L542.00,312.11 L542.60,312.04 L543.20,311.96 L543.80,311.87 L544.40,311.77 L545.00,311.65 L545.60,311.52 L546.20,311.36 L546.80,311.18 L547.40,310.97 L548.00,310.72 L548.60,310.43 L549.20,310.08 L549.80,309.66 L550.40,309.15 L551.00,308.54 L551.60,307.79 L552.20,306.87 L552.80,305.78 L553.40,304.48 L554.00,303.02 L554.60,301.47 L555.20,300.04 L555.80,298.99 L556.40,298.60 L557.00,298.99 L557.60,300.04 L558.20,301.47 L558.80,303.02 L559.40,304.48 L560.00,305.78 L560.60,306.87 L561.20,307.79 L561.80,308.54 L562.40,309.15 L563.00,309.66 L563.60,310.08 L564.20,310.43 L564.80,310.72 L565.40,310.97 L566.00,311.18 L566.60,311.36 L567.20,311.52 L567.80,311.65 L568.40,311.77 L569.00,311.87 L569.60,311.96 L570.20,312.04 L570.80,312.11 L571.40,312.17 L572.00,312.23 L572.60,312.28 L573.20,312.32 L573.80,312.36 L574.40,312.40" stroke="#1a1a1a" stroke-width="1" fill="none" />
<line x1="594.00" y1="297.80" x2="594.00" y2="487.80" stroke="#262626" stroke-width="1.3" stroke-dasharray="3.5,3.94" stroke-dashoffset="6.6"/>
<path d="M576.00,312.60 L576.60,312.58 L577.20,312.56 L577.80,312.53 L578.40,312.50 L579.00,312.47 L579.60,312.43 L580.20,312.40 L580.80,312.35 L581.40,312.30 L582.00,312.24 L582.60,312.18 L583.20,312.10 L583.80,312.01 L584.40,311.91 L585.00,311.79 L585.60,311.65 L586.20,311.49 L586.80,311.29 L587.40,311.05 L588.00,310.76 L588.60,310.42 L589.20,309.99 L589.80,309.48 L590.40,308.86 L591.00,308.12 L591.60,307.30 L592.20,306.42 L592.80,305.61 L593.40,305.02 L594.00,304.80 L594.60,305.02 L595.20,305.61 L595.80,306.42 L596.40,307.30 L597.00,308.12 L597.60,308.86 L598.20,309.48 L598.80,309.99 L599.40,310.42 L600.00,310.76 L600.60,311.05 L601.20,311.29 L601.80,311.49 L602.40,311.65 L603.00,311.79 L603.60,311.91 L604.20,312.01 L604.80,312.10 L605.40,312.18 L606.00,312.24 L606.60,312.30 L607.20,312.35 L607.80,312.40 L608.40,312.43 L609.00,312.47 L609.60,312.50 L610.20,312.53 L610.80,312.56 L611.40,312.58 L612.00,312.60" stroke="#1a1a1a" stroke-width="1" fill="none" />
<rect x="369.30" y="297.80" width="36.30" height="190.00" fill="none" stroke="#1a1a1a" stroke-width="1" />
<line x1="369.30" y1="313.80" x2="405.60" y2="313.80" stroke="#1a1a1a" stroke-width="2" />
<rect x="418.80" y="297.80" width="36.40" height="190.00" fill="none" stroke="#1a1a1a" stroke-width="1" />
<line x1="418.80" y1="313.80" x2="455.20" y2="313.80" stroke="#1a1a1a" stroke-width="2" />
<rect x="457.70" y="297.80" width="35.90" height="190.00" fill="none" stroke="#1a1a1a" stroke-width="1" />
<line x1="457.70" y1="313.80" x2="493.60" y2="313.80" stroke="#1a1a1a" stroke-width="2" />
<rect x="495.00" y="297.80" width="36.60" height="190.00" fill="none" stroke="#1a1a1a" stroke-width="1" />
<line x1="495.00" y1="313.80" x2="531.60" y2="313.80" stroke="#1a1a1a" stroke-width="2" />
<rect x="538.40" y="297.80" width="36.00" height="190.00" fill="none" stroke="#1a1a1a" stroke-width="1" />
<line x1="538.40" y1="313.80" x2="574.40" y2="313.80" stroke="#1a1a1a" stroke-width="2" />
<rect x="576.00" y="297.80" width="36.00" height="190.00" fill="none" stroke="#1a1a1a" stroke-width="1" />
<line x1="576.00" y1="313.80" x2="612.00" y2="313.80" stroke="#1a1a1a" stroke-width="2" />
<line x1="366.80" y1="300.00" x2="369.30" y2="300.00" stroke="#1a1a1a" stroke-width="0.8" />
<text transform="translate(366.30,301.60) scale(1,1.1)" font-size="7" font-weight="normal" text-anchor="end" fill="#1a1a1a" stroke="#1a1a1a" stroke-width="0.25" >200</text>
<line x1="366.80" y1="313.60" x2="369.30" y2="313.60" stroke="#1a1a1a" stroke-width="0.8" />
<text transform="translate(366.30,315.20) scale(1,1.1)" font-size="7" font-weight="normal" text-anchor="end" fill="#1a1a1a" stroke="#1a1a1a" stroke-width="0.25" >0</text>
<line x1="416.30" y1="304.50" x2="418.80" y2="304.50" stroke="#1a1a1a" stroke-width="0.8" />
<text transform="translate(415.80,306.10) scale(1,1.1)" font-size="7" font-weight="normal" text-anchor="end" fill="#1a1a1a" stroke="#1a1a1a" stroke-width="0.25" >0.2</text>
<line x1="416.30" y1="311.00" x2="418.80" y2="311.00" stroke="#1a1a1a" stroke-width="0.8" />
<text transform="translate(415.80,312.60) scale(1,1.1)" font-size="7" font-weight="normal" text-anchor="end" fill="#1a1a1a" stroke="#1a1a1a" stroke-width="0.25" >0.1</text>
<line x1="531.60" y1="298.20" x2="534.10" y2="298.20" stroke="#1a1a1a" stroke-width="0.8" />
<text transform="translate(534.60,300.00) scale(1,1.1)" font-size="7" font-weight="normal" text-anchor="start" fill="#1a1a1a" stroke="#1a1a1a" stroke-width="0.25" >1</text>
<line x1="531.60" y1="313.60" x2="534.10" y2="313.60" stroke="#1a1a1a" stroke-width="0.8" />
<text transform="translate(534.60,315.40) scale(1,1.1)" font-size="7" font-weight="normal" text-anchor="start" fill="#1a1a1a" stroke="#1a1a1a" stroke-width="0.25" >0</text>
<line x1="612.00" y1="303.50" x2="614.50" y2="303.50" stroke="#1a1a1a" stroke-width="0.8" />
<text transform="translate(615.00,305.30) scale(1,1.1)" font-size="7" font-weight="normal" text-anchor="start" fill="#1a1a1a" stroke="#1a1a1a" stroke-width="0.25" >400</text>
<line x1="612.00" y1="313.60" x2="614.50" y2="313.60" stroke="#1a1a1a" stroke-width="0.8" />
<text transform="translate(615.00,315.40) scale(1,1.1)" font-size="7" font-weight="normal" text-anchor="start" fill="#1a1a1a" stroke="#1a1a1a" stroke-width="0.25" >0</text>
<text transform="translate(367.80,496.80) scale(1,1.1)" font-size="6.9" font-weight="normal" text-anchor="start" fill="#1a1a1a" stroke="#1a1a1a" stroke-width="0.25" >-2</text>
<text transform="translate(386.45,496.80) scale(1,1.1)" font-size="6.9" font-weight="normal" text-anchor="middle" fill="#1a1a1a" stroke="#1a1a1a" stroke-width="0.25" >Center</text>
<text transform="translate(403.60,496.80) scale(1,1.1)" font-size="6.9" font-weight="normal" text-anchor="end" fill="#1a1a1a" stroke="#1a1a1a" stroke-width="0.25" >2</text>
<text transform="translate(417.30,496.80) scale(1,1.1)" font-size="6.9" font-weight="normal" text-anchor="start" fill="#1a1a1a" stroke="#1a1a1a" stroke-width="0.25" >-2</text>
<text transform="translate(436.00,496.80) scale(1,1.1)" font-size="6.9" font-weight="normal" text-anchor="middle" fill="#1a1a1a" stroke="#1a1a1a" stroke-width="0.25" >Center</text>
<text transform="translate(453.20,496.80) scale(1,1.1)" font-size="6.9" font-weight="normal" text-anchor="end" fill="#1a1a1a" stroke="#1a1a1a" stroke-width="0.25" >2</text>
<text transform="translate(456.20,496.80) scale(1,1.1)" font-size="6.9" font-weight="normal" text-anchor="start" fill="#1a1a1a" stroke="#1a1a1a" stroke-width="0.25" >-2</text>
<text transform="translate(474.65,496.80) scale(1,1.1)" font-size="6.9" font-weight="normal" text-anchor="middle" fill="#1a1a1a" stroke="#1a1a1a" stroke-width="0.25" >Center</text>
<text transform="translate(491.60,496.80) scale(1,1.1)" font-size="6.9" font-weight="normal" text-anchor="end" fill="#1a1a1a" stroke="#1a1a1a" stroke-width="0.25" >2</text>
<text transform="translate(493.50,496.80) scale(1,1.1)" font-size="6.9" font-weight="normal" text-anchor="start" fill="#1a1a1a" stroke="#1a1a1a" stroke-width="0.25" >-2</text>
<text transform="translate(512.30,496.80) scale(1,1.1)" font-size="6.9" font-weight="normal" text-anchor="middle" fill="#1a1a1a" stroke="#1a1a1a" stroke-width="0.25" >Center</text>
<text transform="translate(529.60,496.80) scale(1,1.1)" font-size="6.9" font-weight="normal" text-anchor="end" fill="#1a1a1a" stroke="#1a1a1a" stroke-width="0.25" >2</text>
<text transform="translate(536.90,496.80) scale(1,1.1)" font-size="6.9" font-weight="normal" text-anchor="start" fill="#1a1a1a" stroke="#1a1a1a" stroke-width="0.25" >-2</text>
<text transform="translate(555.40,496.80) scale(1,1.1)" font-size="6.9" font-weight="normal" text-anchor="middle" fill="#1a1a1a" stroke="#1a1a1a" stroke-width="0.25" >Center</text>
<text transform="translate(572.40,496.80) scale(1,1.1)" font-size="6.9" font-weight="normal" text-anchor="end" fill="#1a1a1a" stroke="#1a1a1a" stroke-width="0.25" >2</text>
<text transform="translate(574.50,496.80) scale(1,1.1)" font-size="6.9" font-weight="normal" text-anchor="start" fill="#1a1a1a" stroke="#1a1a1a" stroke-width="0.25" >-2</text>
<text transform="translate(593.00,496.80) scale(1,1.1)" font-size="6.9" font-weight="normal" text-anchor="middle" fill="#1a1a1a" stroke="#1a1a1a" stroke-width="0.25" >Center</text>
<text transform="translate(610.00,496.80) scale(1,1.1)" font-size="6.9" font-weight="normal" text-anchor="end" fill="#1a1a1a" stroke="#1a1a1a" stroke-width="0.25" >2</text>
<text transform="translate(626.50,496.80) scale(1,1.1)" font-size="6.9" font-weight="normal" text-anchor="end" fill="#1a1a1a" stroke="#1a1a1a" stroke-width="0.25" >(Kb)</text>
<text x="0.00" y="0.00" font-size="9.8" font-weight="normal" text-anchor="middle" fill="#1a1a1a" stroke="#1a1a1a" stroke-width="0.25" transform="translate(355.6,395.9) rotate(-90)">RUNX2 ChIP-seq peaks</text>
<text x="0.00" y="0.00" font-size="9.8" font-weight="normal" text-anchor="middle" fill="#1a1a1a" stroke="#1a1a1a" stroke-width="0.25" transform="translate(366.3,395.9) rotate(-90)">n=49937</text>
<text transform="translate(616.80,339.00) scale(1,1.1)" font-size="7.3" font-weight="bold" text-anchor="start" fill="#1a1a1a" stroke="#1a1a1a" stroke-width="0.25" >RUNX2 ChIP-seq</text>
<rect x="622.70" y="344.20" width="7.80" height="33.70" fill="url(#g37)" />
<line x1="622.70" y1="345.50" x2="624.00" y2="345.50" stroke="#fff" stroke-width="0.7" />
<line x1="629.20" y1="345.50" x2="630.50" y2="345.50" stroke="#fff" stroke-width="0.7" />
<line x1="622.70" y1="352.50" x2="624.00" y2="352.50" stroke="#fff" stroke-width="0.7" />
<line x1="629.20" y1="352.50" x2="630.50" y2="352.50" stroke="#fff" stroke-width="0.7" />
<line x1="622.70" y1="359.50" x2="624.00" y2="359.50" stroke="#fff" stroke-width="0.7" />
<line x1="629.20" y1="359.50" x2="630.50" y2="359.50" stroke="#fff" stroke-width="0.7" />
<line x1="622.70" y1="366.50" x2="624.00" y2="366.50" stroke="#fff" stroke-width="0.7" />
<line x1="629.20" y1="366.50" x2="630.50" y2="366.50" stroke="#fff" stroke-width="0.7" />
<text transform="translate(631.10,348.40) scale(1,1.1)" font-size="7.3" font-weight="normal" text-anchor="start" fill="#1a1a1a" stroke="#1a1a1a" stroke-width="0.25" >800</text>
<text transform="translate(631.10,377.90) scale(1,1.1)" font-size="7.3" font-weight="normal" text-anchor="start" fill="#1a1a1a" stroke="#1a1a1a" stroke-width="0.25" >0</text>
<text transform="translate(616.80,389.90) scale(1,1.1)" font-size="7.3" font-weight="bold" text-anchor="start" fill="#1a1a1a" stroke="#1a1a1a" stroke-width="0.25" >mCG Level</text>
<rect x="622.70" y="394.70" width="7.80" height="24.20" fill="url(#g38)" />
<line x1="622.70" y1="396.00" x2="624.00" y2="396.00" stroke="#fff" stroke-width="0.7" />
<line x1="629.20" y1="396.00" x2="630.50" y2="396.00" stroke="#fff" stroke-width="0.7" />
<line x1="622.70" y1="406.50" x2="624.00" y2="406.50" stroke="#fff" stroke-width="0.7" />
<line x1="629.20" y1="406.50" x2="630.50" y2="406.50" stroke="#fff" stroke-width="0.7" />
<text transform="translate(631.10,399.00) scale(1,1.1)" font-size="7.3" font-weight="normal" text-anchor="start" fill="#1a1a1a" stroke="#1a1a1a" stroke-width="0.25" >1</text>
<text transform="translate(631.10,411.50) scale(1,1.1)" font-size="7.3" font-weight="normal" text-anchor="start" fill="#1a1a1a" stroke="#1a1a1a" stroke-width="0.25" >0.5</text>
<text transform="translate(631.10,421.40) scale(1,1.1)" font-size="7.3" font-weight="normal" text-anchor="start" fill="#1a1a1a" stroke="#1a1a1a" stroke-width="0.25" >0</text>
<text transform="translate(616.80,437.80) scale(1,1.1)" font-size="7.3" font-weight="bold" text-anchor="start" fill="#1a1a1a" stroke="#1a1a1a" stroke-width="0.25" >ATAC-seq</text>
<rect x="622.70" y="444.00" width="7.80" height="27.50" fill="url(#g39)" />
<line x1="622.70" y1="445.50" x2="624.00" y2="445.50" stroke="#fff" stroke-width="0.7" />
<line x1="629.20" y1="445.50" x2="630.50" y2="445.50" stroke="#fff" stroke-width="0.7" />
<line x1="622.70" y1="453.00" x2="624.00" y2="453.00" stroke="#fff" stroke-width="0.7" />
<line x1="629.20" y1="453.00" x2="630.50" y2="453.00" stroke="#fff" stroke-width="0.7" />
<line x1="622.70" y1="460.50" x2="624.00" y2="460.50" stroke="#fff" stroke-width="0.7" />
<line x1="629.20" y1="460.50" x2="630.50" y2="460.50" stroke="#fff" stroke-width="0.7" />
<text transform="translate(631.10,448.40) scale(1,1.1)" font-size="7.3" font-weight="normal" text-anchor="start" fill="#1a1a1a" stroke="#1a1a1a" stroke-width="0.25" >3000</text>
<text transform="translate(631.10,472.80) scale(1,1.1)" font-size="7.3" font-weight="normal" text-anchor="start" fill="#1a1a1a" stroke="#1a1a1a" stroke-width="0.25" >0</text>
<text x="0.40" y="525.80" font-size="17.5" font-weight="bold" text-anchor="start" fill="#1a1a1a" stroke="#1a1a1a" stroke-width="0.25" >e</text>
<rect x="48.20" y="662.01" width="6.10" height="17.39" fill="#664b80" />
<rect x="54.30" y="657.75" width="6.10" height="21.65" fill="#a8c0de" />
<rect x="63.79" y="662.52" width="6.10" height="16.88" fill="#664b80" />
<rect x="69.89" y="655.87" width="6.10" height="23.53" fill="#a8c0de" />
<rect x="79.38" y="659.79" width="6.10" height="19.61" fill="#664b80" />
<rect x="85.48" y="649.56" width="6.10" height="29.84" fill="#a8c0de" />
<rect x="94.97" y="657.06" width="6.10" height="22.34" fill="#664b80" />
<rect x="101.07" y="640.36" width="6.10" height="39.04" fill="#a8c0de" />
<rect x="110.56" y="664.05" width="6.10" height="15.35" fill="#664b80" />
<rect x="116.66" y="639.67" width="6.10" height="39.73" fill="#a8c0de" />
<rect x="126.15" y="634.56" width="6.10" height="44.84" fill="#664b80" />
<rect x="132.25" y="643.94" width="6.10" height="35.46" fill="#a8c0de" />
<rect x="147.84" y="635.07" width="6.10" height="44.33" fill="#a8c0de" />
<rect x="157.33" y="669.00" width="6.10" height="10.40" fill="#664b80" />
<rect x="163.43" y="555.45" width="6.10" height="123.95" fill="#a8c0de" />
<rect x="172.92" y="655.87" width="6.10" height="23.53" fill="#664b80" />
<rect x="179.02" y="632.34" width="6.10" height="47.06" fill="#a8c0de" />
<rect x="188.51" y="656.21" width="6.10" height="23.19" fill="#664b80" />
<rect x="194.61" y="621.60" width="6.10" height="57.80" fill="#a8c0de" />
<rect x="204.10" y="662.86" width="6.10" height="16.54" fill="#664b80" />
<rect x="210.20" y="632.34" width="6.10" height="47.06" fill="#a8c0de" />
<rect x="219.69" y="641.04" width="6.10" height="38.36" fill="#664b80" />
<rect x="225.79" y="644.79" width="6.10" height="34.61" fill="#a8c0de" />
<rect x="235.28" y="666.44" width="6.10" height="12.96" fill="#664b80" />
<rect x="241.38" y="644.96" width="6.10" height="34.44" fill="#a8c0de" />
<rect x="250.87" y="654.17" width="6.10" height="25.23" fill="#664b80" />
<rect x="256.97" y="652.63" width="6.10" height="26.77" fill="#a8c0de" />
<rect x="266.46" y="659.62" width="6.10" height="19.78" fill="#664b80" />
<rect x="272.56" y="655.02" width="6.10" height="24.38" fill="#a8c0de" />
<rect x="282.05" y="659.79" width="6.10" height="19.61" fill="#664b80" />
<rect x="288.15" y="657.75" width="6.10" height="21.65" fill="#a8c0de" />
<line x1="35.40" y1="645.30" x2="306.30" y2="645.30" stroke="#b5b5b5" stroke-width="0.8" stroke-dasharray="1,1.6" />
<line x1="35.40" y1="628.25" x2="306.30" y2="628.25" stroke="#b5b5b5" stroke-width="0.8" stroke-dasharray="1,1.6" />
<line x1="35.40" y1="611.20" x2="306.30" y2="611.20" stroke="#b5b5b5" stroke-width="0.8" stroke-dasharray="1,1.6" />
<line x1="35.40" y1="594.15" x2="306.30" y2="594.15" stroke="#b5b5b5" stroke-width="0.8" stroke-dasharray="1,1.6" />
<line x1="35.40" y1="577.10" x2="306.30" y2="577.10" stroke="#b5b5b5" stroke-width="0.8" stroke-dasharray="1,1.6" />
<line x1="35.40" y1="560.05" x2="306.30" y2="560.05" stroke="#b5b5b5" stroke-width="0.8" stroke-dasharray="1,1.6" />
<line x1="35.40" y1="662.35" x2="306.30" y2="662.35" stroke="#3278b4" stroke-width="2" stroke-dasharray="6.8,3" />
<text x="57.35" y="657.15" font-size="7" font-weight="normal" text-anchor="middle" fill="#333" stroke="#333" stroke-width="0" >*</text>
<line x1="54.30" y1="679.40" x2="54.30" y2="681.60" stroke="#1a1a1a" stroke-width="0.8" />
<text x="0.00" y="0.00" font-size="9.8" font-weight="normal" text-anchor="end" fill="#1a1a1a" stroke="#1a1a1a" stroke-width="0.25" transform="translate(60.70,687.90) rotate(-45)">-1000 to -500</text>
<text x="72.94" y="655.27" font-size="7" font-weight="normal" text-anchor="middle" fill="#333" stroke="#333" stroke-width="0" >*</text>
<line x1="69.89" y1="679.40" x2="69.89" y2="681.60" stroke="#1a1a1a" stroke-width="0.8" />
<text x="0.00" y="0.00" font-size="9.8" font-weight="normal" text-anchor="end" fill="#1a1a1a" stroke="#1a1a1a" stroke-width="0.25" transform="translate(76.29,687.90) rotate(-45)">-500 to -200</text>
<text x="88.53" y="648.96" font-size="7" font-weight="normal" text-anchor="middle" fill="#333" stroke="#333" stroke-width="0" >*</text>
<line x1="85.48" y1="679.40" x2="85.48" y2="681.60" stroke="#1a1a1a" stroke-width="0.8" />
<text x="0.00" y="0.00" font-size="9.8" font-weight="normal" text-anchor="end" fill="#1a1a1a" stroke="#1a1a1a" stroke-width="0.25" transform="translate(91.88,687.90) rotate(-45)">-200 to -100</text>
<text x="104.12" y="639.76" font-size="7" font-weight="normal" text-anchor="middle" fill="#333" stroke="#333" stroke-width="0" >*</text>
<line x1="101.07" y1="679.40" x2="101.07" y2="681.60" stroke="#1a1a1a" stroke-width="0.8" />
<text x="0.00" y="0.00" font-size="9.8" font-weight="normal" text-anchor="end" fill="#1a1a1a" stroke="#1a1a1a" stroke-width="0.25" transform="translate(107.47,687.90) rotate(-45)">-100 to -50</text>
<text x="119.71" y="639.07" font-size="7" font-weight="normal" text-anchor="middle" fill="#333" stroke="#333" stroke-width="0" >*</text>
<line x1="116.66" y1="679.40" x2="116.66" y2="681.60" stroke="#1a1a1a" stroke-width="0.8" />
<text x="0.00" y="0.00" font-size="9.8" font-weight="normal" text-anchor="end" fill="#1a1a1a" stroke="#1a1a1a" stroke-width="0.25" transform="translate(123.06,687.90) rotate(-45)">-50 to -25</text>
<text x="129.20" y="633.96" font-size="7" font-weight="normal" text-anchor="middle" fill="#333" stroke="#333" stroke-width="0" >*</text>
<text x="135.30" y="643.34" font-size="7" font-weight="normal" text-anchor="middle" fill="#333" stroke="#333" stroke-width="0" >*</text>
<line x1="132.25" y1="679.40" x2="132.25" y2="681.60" stroke="#1a1a1a" stroke-width="0.8" />
<text x="0.00" y="0.00" font-size="9.8" font-weight="normal" text-anchor="end" fill="#1a1a1a" stroke="#1a1a1a" stroke-width="0.25" transform="translate(138.65,687.90) rotate(-45)">-25 to -10</text>
<text x="150.89" y="634.47" font-size="7" font-weight="normal" text-anchor="middle" fill="#333" stroke="#333" stroke-width="0" >*</text>
<line x1="147.84" y1="679.40" x2="147.84" y2="681.60" stroke="#1a1a1a" stroke-width="0.8" />
<text x="0.00" y="0.00" font-size="9.8" font-weight="normal" text-anchor="end" fill="#1a1a1a" stroke="#1a1a1a" stroke-width="0.25" transform="translate(154.24,687.90) rotate(-45)">-10 to -5</text>
<text x="166.48" y="554.85" font-size="7" font-weight="normal" text-anchor="middle" fill="#333" stroke="#333" stroke-width="0" >*</text>
<line x1="163.43" y1="679.40" x2="163.43" y2="681.60" stroke="#1a1a1a" stroke-width="0.8" />
<text x="0.00" y="0.00" font-size="9.8" font-weight="normal" text-anchor="end" fill="#1a1a1a" stroke="#1a1a1a" stroke-width="0.25" transform="translate(169.83,687.90) rotate(-45)">-5 to 0</text>
<text x="182.07" y="631.74" font-size="7" font-weight="normal" text-anchor="middle" fill="#333" stroke="#333" stroke-width="0" >*</text>
<line x1="179.02" y1="679.40" x2="179.02" y2="681.60" stroke="#1a1a1a" stroke-width="0.8" />
<text x="0.00" y="0.00" font-size="9.8" font-weight="normal" text-anchor="end" fill="#1a1a1a" stroke="#1a1a1a" stroke-width="0.25" transform="translate(185.42,687.90) rotate(-45)">0 to 5</text>
<text x="197.66" y="621.00" font-size="7" font-weight="normal" text-anchor="middle" fill="#333" stroke="#333" stroke-width="0" >*</text>
<line x1="194.61" y1="679.40" x2="194.61" y2="681.60" stroke="#1a1a1a" stroke-width="0.8" />
<text x="0.00" y="0.00" font-size="9.8" font-weight="normal" text-anchor="end" fill="#1a1a1a" stroke="#1a1a1a" stroke-width="0.25" transform="translate(201.01,687.90) rotate(-45)">5 to 10</text>
<text x="213.25" y="631.74" font-size="7" font-weight="normal" text-anchor="middle" fill="#333" stroke="#333" stroke-width="0" >*</text>
<line x1="210.20" y1="679.40" x2="210.20" y2="681.60" stroke="#1a1a1a" stroke-width="0.8" />
<text x="0.00" y="0.00" font-size="9.8" font-weight="normal" text-anchor="end" fill="#1a1a1a" stroke="#1a1a1a" stroke-width="0.25" transform="translate(216.60,687.90) rotate(-45)">10 to 25</text>
<text x="222.74" y="640.44" font-size="7" font-weight="normal" text-anchor="middle" fill="#333" stroke="#333" stroke-width="0" >*</text>
<text x="228.84" y="644.19" font-size="7" font-weight="normal" text-anchor="middle" fill="#333" stroke="#333" stroke-width="0" >*</text>
<line x1="225.79" y1="679.40" x2="225.79" y2="681.60" stroke="#1a1a1a" stroke-width="0.8" />
<text x="0.00" y="0.00" font-size="9.8" font-weight="normal" text-anchor="end" fill="#1a1a1a" stroke="#1a1a1a" stroke-width="0.25" transform="translate(232.19,687.90) rotate(-45)">25 to 50</text>
<text x="244.43" y="644.36" font-size="7" font-weight="normal" text-anchor="middle" fill="#333" stroke="#333" stroke-width="0" >*</text>
<line x1="241.38" y1="679.40" x2="241.38" y2="681.60" stroke="#1a1a1a" stroke-width="0.8" />
<text x="0.00" y="0.00" font-size="9.8" font-weight="normal" text-anchor="end" fill="#1a1a1a" stroke="#1a1a1a" stroke-width="0.25" transform="translate(247.78,687.90) rotate(-45)">50 to 100</text>
<text x="253.92" y="653.57" font-size="7" font-weight="normal" text-anchor="middle" fill="#333" stroke="#333" stroke-width="0" >*</text>
<text x="260.02" y="652.03" font-size="7" font-weight="normal" text-anchor="middle" fill="#333" stroke="#333" stroke-width="0" >*</text>
<line x1="256.97" y1="679.40" x2="256.97" y2="681.60" stroke="#1a1a1a" stroke-width="0.8" />
<text x="0.00" y="0.00" font-size="9.8" font-weight="normal" text-anchor="end" fill="#1a1a1a" stroke="#1a1a1a" stroke-width="0.25" transform="translate(263.37,687.90) rotate(-45)">100 to 200</text>
<text x="275.61" y="654.42" font-size="7" font-weight="normal" text-anchor="middle" fill="#333" stroke="#333" stroke-width="0" >*</text>
<line x1="272.56" y1="679.40" x2="272.56" y2="681.60" stroke="#1a1a1a" stroke-width="0.8" />
<text x="0.00" y="0.00" font-size="9.8" font-weight="normal" text-anchor="end" fill="#1a1a1a" stroke="#1a1a1a" stroke-width="0.25" transform="translate(278.96,687.90) rotate(-45)">200 to 500</text>
<text x="291.20" y="657.15" font-size="7" font-weight="normal" text-anchor="middle" fill="#333" stroke="#333" stroke-width="0" >*</text>
<line x1="288.15" y1="679.40" x2="288.15" y2="681.60" stroke="#1a1a1a" stroke-width="0.8" />
<text x="0.00" y="0.00" font-size="9.8" font-weight="normal" text-anchor="end" fill="#1a1a1a" stroke="#1a1a1a" stroke-width="0.25" transform="translate(294.55,687.90) rotate(-45)">500 to 1000</text>
<path d="M35.4,549.5 H306.3 V679.4 H35.4 Z" fill="none" stroke="#1a1a1a" stroke-width="1.1"/>
<line x1="32.90" y1="679.40" x2="35.40" y2="679.40" stroke="#1a1a1a" stroke-width="0.8" />
<text transform="translate(31.90,682.80) scale(1,1.1)" font-size="9.4" font-weight="normal" text-anchor="end" fill="#1a1a1a" stroke="#1a1a1a" stroke-width="0.25" >0</text>
<line x1="32.90" y1="662.35" x2="35.40" y2="662.35" stroke="#1a1a1a" stroke-width="0.8" />
<text transform="translate(31.90,665.75) scale(1,1.1)" font-size="9.4" font-weight="normal" text-anchor="end" fill="#1a1a1a" stroke="#1a1a1a" stroke-width="0.25" >1</text>
<line x1="32.90" y1="645.30" x2="35.40" y2="645.30" stroke="#1a1a1a" stroke-width="0.8" />
<text transform="translate(31.90,648.70) scale(1,1.1)" font-size="9.4" font-weight="normal" text-anchor="end" fill="#1a1a1a" stroke="#1a1a1a" stroke-width="0.25" >2</text>
<line x1="32.90" y1="628.25" x2="35.40" y2="628.25" stroke="#1a1a1a" stroke-width="0.8" />
<text transform="translate(31.90,631.65) scale(1,1.1)" font-size="9.4" font-weight="normal" text-anchor="end" fill="#1a1a1a" stroke="#1a1a1a" stroke-width="0.25" >3</text>
<line x1="32.90" y1="611.20" x2="35.40" y2="611.20" stroke="#1a1a1a" stroke-width="0.8" />
<text transform="translate(31.90,614.60) scale(1,1.1)" font-size="9.4" font-weight="normal" text-anchor="end" fill="#1a1a1a" stroke="#1a1a1a" stroke-width="0.25" >4</text>
<line x1="32.90" y1="594.15" x2="35.40" y2="594.15" stroke="#1a1a1a" stroke-width="0.8" />
<text transform="translate(31.90,597.55) scale(1,1.1)" font-size="9.4" font-weight="normal" text-anchor="end" fill="#1a1a1a" stroke="#1a1a1a" stroke-width="0.25" >5</text>
<line x1="32.90" y1="577.10" x2="35.40" y2="577.10" stroke="#1a1a1a" stroke-width="0.8" />
<text transform="translate(31.90,580.50) scale(1,1.1)" font-size="9.4" font-weight="normal" text-anchor="end" fill="#1a1a1a" stroke="#1a1a1a" stroke-width="0.25" >6</text>
<line x1="32.90" y1="560.05" x2="35.40" y2="560.05" stroke="#1a1a1a" stroke-width="0.8" />
<text transform="translate(31.90,563.45) scale(1,1.1)" font-size="9.4" font-weight="normal" text-anchor="end" fill="#1a1a1a" stroke="#1a1a1a" stroke-width="0.25" >7</text>
<text x="0.00" y="0.00" font-size="12.3" font-weight="bold" text-anchor="middle" fill="#1a1a1a" stroke="#1a1a1a" stroke-width="0.25" transform="translate(20.6,610.6) rotate(-90)">Observed/Expected</text>
<text transform="translate(163.60,726.40) scale(1,1.1)" font-size="9.8" font-weight="normal" text-anchor="middle" fill="#1a1a1a" stroke="#1a1a1a" stroke-width="0.25" >Distance to TSS (Kb)</text>
<rect x="222" y="555.4" width="75" height="27.3" rx="2.5" fill="#fff" fill-opacity="0.85" stroke="#d0d0d0" stroke-width="0.8"/>
<rect x="227.00" y="560.30" width="11.00" height="4.60" fill="#664b80" />
<rect x="227.00" y="572.30" width="11.00" height="4.60" fill="#a8c0de" />
<text transform="translate(240.60,565.00) scale(1,1.1)" font-size="9.8" font-weight="normal" text-anchor="start" fill="#1a1a1a" stroke="#1a1a1a" stroke-width="0.25" >Up DEGs</text>
<text transform="translate(240.60,577.30) scale(1,1.1)" font-size="9.8" font-weight="normal" text-anchor="start" fill="#1a1a1a" stroke="#1a1a1a" stroke-width="0.25" >Down DEGs</text>
<text x="345.10" y="525.80" font-size="17.5" font-weight="bold" text-anchor="start" fill="#1a1a1a" stroke="#1a1a1a" stroke-width="0.25" >f</text>
<text transform="translate(569.50,519.40) scale(1,1.1)" font-size="12.3" font-weight="bold" text-anchor="middle" fill="#1a1a1a" stroke="#1a1a1a" stroke-width="0.25" >Enriched GO terms</text>
<rect x="510.50" y="527.50" width="121.80" height="212.00" fill="#fff" />
<line x1="516.50" y1="527.50" x2="516.50" y2="739.50" stroke="#ebebeb" stroke-width="0.6" />
<line x1="527.10" y1="527.50" x2="527.10" y2="739.50" stroke="#ebebeb" stroke-width="0.9" />
<line x1="537.70" y1="527.50" x2="537.70" y2="739.50" stroke="#ebebeb" stroke-width="0.6" />
<line x1="548.30" y1="527.50" x2="548.30" y2="739.50" stroke="#ebebeb" stroke-width="0.9" />
<line x1="558.90" y1="527.50" x2="558.90" y2="739.50" stroke="#ebebeb" stroke-width="0.6" />
<line x1="569.50" y1="527.50" x2="569.50" y2="739.50" stroke="#ebebeb" stroke-width="0.9" />
<line x1="580.10" y1="527.50" x2="580.10" y2="739.50" stroke="#ebebeb" stroke-width="0.6" />
<line x1="590.70" y1="527.50" x2="590.70" y2="739.50" stroke="#ebebeb" stroke-width="0.9" />
<line x1="601.30" y1="527.50" x2="601.30" y2="739.50" stroke="#ebebeb" stroke-width="0.6" />
<line x1="611.90" y1="527.50" x2="611.90" y2="739.50" stroke="#ebebeb" stroke-width="0.9" />
<line x1="622.50" y1="527.50" x2="622.50" y2="739.50" stroke="#ebebeb" stroke-width="0.6" />
<line x1="510.50" y1="535.90" x2="632.30" y2="535.90" stroke="#ebebeb" stroke-width="0.9" />
<line x1="510.50" y1="549.90" x2="632.30" y2="549.90" stroke="#ebebeb" stroke-width="0.9" />
<line x1="510.50" y1="563.90" x2="632.30" y2="563.90" stroke="#ebebeb" stroke-width="0.9" />
<line x1="510.50" y1="577.90" x2="632.30" y2="577.90" stroke="#ebebeb" stroke-width="0.9" />
<line x1="510.50" y1="591.90" x2="632.30" y2="591.90" stroke="#ebebeb" stroke-width="0.9" />
<line x1="510.50" y1="605.90" x2="632.30" y2="605.90" stroke="#ebebeb" stroke-width="0.9" />
<line x1="510.50" y1="619.90" x2="632.30" y2="619.90" stroke="#ebebeb" stroke-width="0.9" />
<line x1="510.50" y1="633.90" x2="632.30" y2="633.90" stroke="#ebebeb" stroke-width="0.9" />
<line x1="510.50" y1="647.90" x2="632.30" y2="647.90" stroke="#ebebeb" stroke-width="0.9" />
<line x1="510.50" y1="661.90" x2="632.30" y2="661.90" stroke="#ebebeb" stroke-width="0.9" />
<line x1="510.50" y1="675.90" x2="632.30" y2="675.90" stroke="#ebebeb" stroke-width="0.9" />
<line x1="510.50" y1="689.90" x2="632.30" y2="689.90" stroke="#ebebeb" stroke-width="0.9" />
<line x1="510.50" y1="703.90" x2="632.30" y2="703.90" stroke="#ebebeb" stroke-width="0.9" />
<line x1="510.50" y1="717.90" x2="632.30" y2="717.90" stroke="#ebebeb" stroke-width="0.9" />
<line x1="510.50" y1="731.90" x2="632.30" y2="731.90" stroke="#ebebeb" stroke-width="0.9" />
<circle cx="627.16" cy="535.90" r="4.7" fill="#3e5f92"/>
<line x1="508.00" y1="535.90" x2="510.50" y2="535.90" stroke="#333" stroke-width="0.8" />
<text transform="translate(505.50,539.90) scale(1,1.1)" font-size="9.8" font-weight="normal" text-anchor="end" fill="#1a1a1a" stroke="#1a1a1a" stroke-width="0.25" >ossification</text>
<circle cx="579.04" cy="549.90" r="3.9" fill="#b3bacd"/>
<line x1="508.00" y1="549.90" x2="510.50" y2="549.90" stroke="#333" stroke-width="0.8" />
<text transform="translate(505.50,553.90) scale(1,1.1)" font-size="9.8" font-weight="normal" text-anchor="end" fill="#1a1a1a" stroke="#1a1a1a" stroke-width="0.25" >reactive oxygen species metabolic process</text>
<circle cx="579.04" cy="563.90" r="3.9" fill="#d3d3d6"/>
<line x1="508.00" y1="563.90" x2="510.50" y2="563.90" stroke="#333" stroke-width="0.8" />
<text transform="translate(505.50,567.90) scale(1,1.1)" font-size="9.8" font-weight="normal" text-anchor="end" fill="#1a1a1a" stroke="#1a1a1a" stroke-width="0.25" >extracellular matrix organization</text>
<circle cx="563.14" cy="577.90" r="3.7" fill="#8e9dbb"/>
<line x1="508.00" y1="577.90" x2="510.50" y2="577.90" stroke="#333" stroke-width="0.8" />
<text transform="translate(505.50,581.90) scale(1,1.1)" font-size="9.8" font-weight="normal" text-anchor="end" fill="#1a1a1a" stroke="#1a1a1a" stroke-width="0.25" >organ growth</text>
<circle cx="563.14" cy="591.90" r="3.7" fill="#8e9dbb"/>
<line x1="508.00" y1="591.90" x2="510.50" y2="591.90" stroke="#333" stroke-width="0.8" />
<text transform="translate(505.50,595.90) scale(1,1.1)" font-size="9.8" font-weight="normal" text-anchor="end" fill="#1a1a1a" stroke="#1a1a1a" stroke-width="0.25" >morphogenesis of a branching epithelium</text>
<circle cx="547.66" cy="605.90" r="3.2" fill="#3e5f94"/>
<line x1="508.00" y1="605.90" x2="510.50" y2="605.90" stroke="#333" stroke-width="0.8" />
<text transform="translate(505.50,609.90) scale(1,1.1)" font-size="9.8" font-weight="normal" text-anchor="end" fill="#1a1a1a" stroke="#1a1a1a" stroke-width="0.25" >chondrocyte differentiation</text>
<circle cx="547.66" cy="619.90" r="3.3" fill="#3f6095"/>
<line x1="508.00" y1="619.90" x2="510.50" y2="619.90" stroke="#333" stroke-width="0.8" />
<text transform="translate(505.50,623.90) scale(1,1.1)" font-size="9.8" font-weight="normal" text-anchor="end" fill="#1a1a1a" stroke="#1a1a1a" stroke-width="0.25" >bone mineralization</text>
<circle cx="547.66" cy="633.90" r="3.3" fill="#8f9fbd"/>
<line x1="508.00" y1="633.90" x2="510.50" y2="633.90" stroke="#333" stroke-width="0.8" />
<text transform="translate(505.50,637.90) scale(1,1.1)" font-size="9.8" font-weight="normal" text-anchor="end" fill="#1a1a1a" stroke="#1a1a1a" stroke-width="0.25" >biomineral tissue development</text>
<circle cx="547.66" cy="647.90" r="3.3" fill="#8f9fbd"/>
<line x1="508.00" y1="647.90" x2="510.50" y2="647.90" stroke="#333" stroke-width="0.8" />
<text transform="translate(505.50,651.90) scale(1,1.1)" font-size="9.8" font-weight="normal" text-anchor="end" fill="#1a1a1a" stroke="#1a1a1a" stroke-width="0.25" >biomineralization</text>
<circle cx="531.76" cy="661.90" r="2.9" fill="#3e5f94"/>
<line x1="508.00" y1="661.90" x2="510.50" y2="661.90" stroke="#333" stroke-width="0.8" />
<text transform="translate(505.50,665.90) scale(1,1.1)" font-size="9.8" font-weight="normal" text-anchor="end" fill="#1a1a1a" stroke="#1a1a1a" stroke-width="0.25" >regulation of bone mineralization</text>
<circle cx="531.76" cy="675.90" r="2.9" fill="#57739f"/>
<line x1="508.00" y1="675.90" x2="510.50" y2="675.90" stroke="#333" stroke-width="0.8" />
<text transform="translate(505.50,679.90) scale(1,1.1)" font-size="9.8" font-weight="normal" text-anchor="end" fill="#1a1a1a" stroke="#1a1a1a" stroke-width="0.25" >regulation of biomineral tissue development</text>
<circle cx="531.76" cy="689.90" r="2.9" fill="#57739f"/>
<line x1="508.00" y1="689.90" x2="510.50" y2="689.90" stroke="#333" stroke-width="0.8" />
<text transform="translate(505.50,693.90) scale(1,1.1)" font-size="9.8" font-weight="normal" text-anchor="end" fill="#1a1a1a" stroke="#1a1a1a" stroke-width="0.25" >regulation of biomineralization</text>
<circle cx="516.08" cy="703.90" r="1.9" fill="#8d9cbd"/>
<line x1="508.00" y1="703.90" x2="510.50" y2="703.90" stroke="#333" stroke-width="0.8" />
<circle cx="516.08" cy="717.90" r="1.9" fill="#8d9cbd"/>
<line x1="508.00" y1="717.90" x2="510.50" y2="717.90" stroke="#333" stroke-width="0.8" />
<text transform="translate(505.50,721.90) scale(1,1.1)" font-size="9.8" font-weight="normal" text-anchor="end" fill="#1a1a1a" stroke="#1a1a1a" stroke-width="0.25" >negative regulation of muscle organ development</text>
<circle cx="516.08" cy="731.90" r="1.9" fill="#8d9cbd"/>
<line x1="508.00" y1="731.90" x2="510.50" y2="731.90" stroke="#333" stroke-width="0.8" />
<text transform="translate(505.50,735.90) scale(1,1.1)" font-size="9.8" font-weight="normal" text-anchor="end" fill="#1a1a1a" stroke="#1a1a1a" stroke-width="0.25" >negative regulation of muscle tissue development</text>
<text transform="translate(503.00,702.90) scale(1,1.1)" font-size="9.8" font-weight="normal" text-anchor="end" fill="#1a1a1a" stroke="#1a1a1a" stroke-width="0.25" >negative regulation of striated muscle</text>
<text transform="translate(422.00,711.10) scale(1,1.1)" font-size="9.8" font-weight="normal" text-anchor="middle" fill="#1a1a1a" stroke="#1a1a1a" stroke-width="0.25" >tissue development</text>
<rect x="510.50" y="527.50" width="121.80" height="212.00" fill="none" stroke="#4d4d4d" stroke-width="0.9" />
<line x1="527.10" y1="739.50" x2="527.10" y2="742.00" stroke="#333" stroke-width="0.8" />
<text transform="translate(527.10,750.70) scale(1,1.1)" font-size="9.8" font-weight="normal" text-anchor="middle" fill="#4d4d4d" stroke="#4d4d4d" stroke-width="0.25" >0.05</text>
<line x1="548.30" y1="739.50" x2="548.30" y2="742.00" stroke="#333" stroke-width="0.8" />
<text transform="translate(548.30,750.70) scale(1,1.1)" font-size="9.8" font-weight="normal" text-anchor="middle" fill="#4d4d4d" stroke="#4d4d4d" stroke-width="0.25" >0.06</text>
<line x1="569.50" y1="739.50" x2="569.50" y2="742.00" stroke="#333" stroke-width="0.8" />
<text transform="translate(569.50,750.70) scale(1,1.1)" font-size="9.8" font-weight="normal" text-anchor="middle" fill="#4d4d4d" stroke="#4d4d4d" stroke-width="0.25" >0.07</text>
<line x1="590.70" y1="739.50" x2="590.70" y2="742.00" stroke="#333" stroke-width="0.8" />
<text transform="translate(590.70,750.70) scale(1,1.1)" font-size="9.8" font-weight="normal" text-anchor="middle" fill="#4d4d4d" stroke="#4d4d4d" stroke-width="0.25" >0.08</text>
<line x1="611.90" y1="739.50" x2="611.90" y2="742.00" stroke="#333" stroke-width="0.8" />
<text transform="translate(611.90,750.70) scale(1,1.1)" font-size="9.8" font-weight="normal" text-anchor="middle" fill="#4d4d4d" stroke="#4d4d4d" stroke-width="0.25" >0.09</text>
<text transform="translate(571.20,760.50) scale(1,1.1)" font-size="9.8" font-weight="normal" text-anchor="middle" fill="#1a1a1a" stroke="#1a1a1a" stroke-width="0.25" >Gene Ratio</text>
<text transform="translate(640.60,568.70) scale(1,1.1)" font-size="11.2" font-weight="normal" text-anchor="start" fill="#1a1a1a" stroke="#1a1a1a" stroke-width="0.25" >Count</text>
<circle cx="645.8" cy="579.9" r="1.4" fill="#111"/>
<text transform="translate(654.00,583.50) scale(1,1.1)" font-size="10" font-weight="normal" text-anchor="start" fill="#1a1a1a" stroke="#1a1a1a" stroke-width="0.25" >6</text>
<circle cx="645.8" cy="591.7" r="3.1" fill="#111"/>
<text transform="translate(654.00,595.70) scale(1,1.1)" font-size="10" font-weight="normal" text-anchor="start" fill="#1a1a1a" stroke="#1a1a1a" stroke-width="0.25" >8</text>
<circle cx="645.8" cy="604.7" r="3.7" fill="#111"/>
<text transform="translate(654.00,608.70) scale(1,1.1)" font-size="10" font-weight="normal" text-anchor="start" fill="#1a1a1a" stroke="#1a1a1a" stroke-width="0.25" >10</text>
<circle cx="645.8" cy="616.5" r="4.4" fill="#111"/>
<text transform="translate(654.00,621.30) scale(1,1.1)" font-size="10" font-weight="normal" text-anchor="start" fill="#1a1a1a" stroke="#1a1a1a" stroke-width="0.25" >12</text>
<text transform="translate(640.60,640.60) scale(1,1.1)" font-size="10.8" font-weight="normal" text-anchor="start" fill="#1a1a1a" stroke="#1a1a1a" stroke-width="0.25" >FDR</text>
<rect x="640.90" y="644.10" width="7.90" height="41.70" fill="url(#g40)" />
<line x1="640.90" y1="653.80" x2="642.40" y2="653.80" stroke="#fff" stroke-width="0.6" />
<line x1="647.30" y1="653.80" x2="648.80" y2="653.80" stroke="#fff" stroke-width="0.6" />
<text x="651.10" y="657.50" font-size="11" font-weight="normal" text-anchor="start" fill="#1a1a1a" stroke="#1a1a1a" stroke-width="0.25" >0.0025</text>
<line x1="640.90" y1="663.00" x2="642.40" y2="663.00" stroke="#fff" stroke-width="0.6" />
<line x1="647.30" y1="663.00" x2="648.80" y2="663.00" stroke="#fff" stroke-width="0.6" />
<text x="651.10" y="666.70" font-size="11" font-weight="normal" text-anchor="start" fill="#1a1a1a" stroke="#1a1a1a" stroke-width="0.25" >0.0020</text>
<line x1="640.90" y1="672.50" x2="642.40" y2="672.50" stroke="#fff" stroke-width="0.6" />
<line x1="647.30" y1="672.50" x2="648.80" y2="672.50" stroke="#fff" stroke-width="0.6" />
<text x="651.10" y="676.20" font-size="11" font-weight="normal" text-anchor="start" fill="#1a1a1a" stroke="#1a1a1a" stroke-width="0.25" >0.0015</text>
<line x1="640.90" y1="682.00" x2="642.40" y2="682.00" stroke="#fff" stroke-width="0.6" />
<line x1="647.30" y1="682.00" x2="648.80" y2="682.00" stroke="#fff" stroke-width="0.6" />
<text x="651.10" y="685.70" font-size="11" font-weight="normal" text-anchor="start" fill="#1a1a1a" stroke="#1a1a1a" stroke-width="0.25" >0.0010</text></svg>
</body></html>
